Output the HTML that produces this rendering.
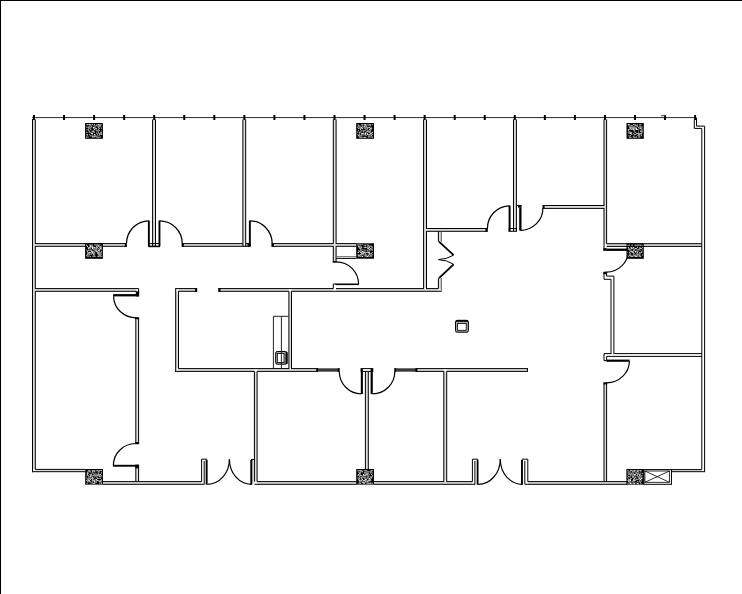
<!DOCTYPE html>
<html><head><meta charset="utf-8"><title>Floor plan</title>
<style>html,body{margin:0;padding:0;background:#fff;}svg{display:block}</style></head>
<body><svg width="742" height="594" viewBox="0 0 742 594">
<rect width="742" height="594" fill="#fff"/>
<rect x="32.50" y="119.50" width="2.80" height="349.90" fill="#dcdcdc"/>
<rect x="152.60" y="119.50" width="2.90" height="126.80" fill="#dcdcdc"/>
<rect x="242.90" y="119.50" width="2.80" height="126.80" fill="#dcdcdc"/>
<rect x="333.30" y="119.50" width="2.80" height="142.00" fill="#dcdcdc"/>
<rect x="423.60" y="119.50" width="2.90" height="169.10" fill="#dcdcdc"/>
<rect x="513.50" y="119.50" width="2.90" height="111.80" fill="#dcdcdc"/>
<rect x="604.00" y="119.50" width="2.60" height="124.20" fill="#dcdcdc"/>
<rect x="135.80" y="318.00" width="2.80" height="125.50" fill="#dcdcdc"/>
<rect x="135.80" y="467.00" width="2.80" height="14.60" fill="#dcdcdc"/>
<rect x="175.70" y="291.30" width="2.80" height="77.30" fill="#dcdcdc"/>
<rect x="288.90" y="291.30" width="2.60" height="77.30" fill="#dcdcdc"/>
<rect x="365.40" y="371.40" width="2.90" height="97.80" fill="#dcdcdc"/>
<rect x="254.40" y="371.40" width="2.70" height="110.20" fill="#dcdcdc"/>
<rect x="443.80" y="371.40" width="2.90" height="110.20" fill="#dcdcdc"/>
<rect x="604.00" y="382.60" width="2.60" height="99.00" fill="#dcdcdc"/>
<rect x="438.40" y="231.30" width="2.90" height="10.30" fill="#dcdcdc"/>
<rect x="438.40" y="278.20" width="2.90" height="10.40" fill="#dcdcdc"/>
<rect x="661.00" y="115.40" width="4.00" height="2.20" fill="#dcdcdc"/>
<rect x="35.30" y="469.40" width="50.00" height="2.30" fill="#dcdcdc"/>
<rect x="671.50" y="469.60" width="30.30" height="2.10" fill="#dcdcdc"/>
<rect x="35.30" y="243.60" width="91.30" height="2.70" fill="#dcdcdc"/>
<rect x="182.00" y="243.60" width="67.50" height="2.70" fill="#dcdcdc"/>
<rect x="272.50" y="243.60" width="83.80" height="2.70" fill="#dcdcdc"/>
<rect x="35.30" y="288.60" width="101.00" height="2.70" fill="#dcdcdc"/>
<rect x="178.50" y="288.60" width="18.50" height="2.70" fill="#dcdcdc"/>
<rect x="218.50" y="288.60" width="70.40" height="2.70" fill="#dcdcdc"/>
<rect x="291.50" y="288.60" width="41.80" height="2.70" fill="#dcdcdc"/>
<rect x="336.00" y="288.60" width="102.40" height="2.70" fill="#dcdcdc"/>
<rect x="178.50" y="368.60" width="75.90" height="2.80" fill="#dcdcdc"/>
<rect x="257.10" y="368.60" width="59.50" height="2.80" fill="#dcdcdc"/>
<rect x="417.00" y="368.60" width="26.80" height="2.80" fill="#dcdcdc"/>
<rect x="446.70" y="368.60" width="81.10" height="2.80" fill="#dcdcdc"/>
<rect x="103.00" y="481.60" width="98.60" height="2.70" fill="#dcdcdc"/>
<rect x="257.10" y="481.60" width="99.40" height="2.70" fill="#dcdcdc"/>
<rect x="374.00" y="481.60" width="98.40" height="2.70" fill="#dcdcdc"/>
<rect x="527.80" y="481.60" width="99.40" height="2.70" fill="#dcdcdc"/>
<rect x="426.50" y="228.50" width="60.70" height="2.80" fill="#dcdcdc"/>
<rect x="543.00" y="205.50" width="61.00" height="2.90" fill="#dcdcdc"/>
<rect x="606.60" y="243.70" width="95.20" height="2.70" fill="#dcdcdc"/>
<rect x="0.00" y="0.00" width="742.00" height="1.00" fill="#000"/>
<rect x="0.00" y="0.00" width="1.00" height="594.00" fill="#000"/>
<line x1="32.00" y1="117.60" x2="696.50" y2="117.60" stroke="#2a2a2a" stroke-width="1"/>
<rect x="33.00" y="115.00" width="2.00" height="5.00" fill="#000"/>
<rect x="63.05" y="115.00" width="2.00" height="5.00" fill="#000"/>
<rect x="93.10" y="115.00" width="2.00" height="5.00" fill="#000"/>
<rect x="123.15" y="115.00" width="2.00" height="5.00" fill="#000"/>
<rect x="153.20" y="115.00" width="2.00" height="5.00" fill="#000"/>
<rect x="183.25" y="115.00" width="2.00" height="5.00" fill="#000"/>
<rect x="213.30" y="115.00" width="2.00" height="5.00" fill="#000"/>
<rect x="243.35" y="115.00" width="2.00" height="5.00" fill="#000"/>
<rect x="273.40" y="115.00" width="2.00" height="5.00" fill="#000"/>
<rect x="303.45" y="115.00" width="2.00" height="5.00" fill="#000"/>
<rect x="333.50" y="115.00" width="2.00" height="5.00" fill="#000"/>
<rect x="363.55" y="115.00" width="2.00" height="5.00" fill="#000"/>
<rect x="393.60" y="115.00" width="2.00" height="5.00" fill="#000"/>
<rect x="423.65" y="115.00" width="2.00" height="5.00" fill="#000"/>
<rect x="453.70" y="115.00" width="2.00" height="5.00" fill="#000"/>
<rect x="483.75" y="115.00" width="2.00" height="5.00" fill="#000"/>
<rect x="513.80" y="115.00" width="2.00" height="5.00" fill="#000"/>
<rect x="543.85" y="115.00" width="2.00" height="5.00" fill="#000"/>
<rect x="573.90" y="115.00" width="2.00" height="5.00" fill="#000"/>
<rect x="603.95" y="115.00" width="2.00" height="5.00" fill="#000"/>
<rect x="634.00" y="115.00" width="2.00" height="5.00" fill="#000"/>
<rect x="664.05" y="115.00" width="2.00" height="5.00" fill="#000"/>
<rect x="694.10" y="115.00" width="2.00" height="5.00" fill="#000"/>
<line x1="661.00" y1="115.40" x2="665.00" y2="115.40" stroke="#555" stroke-width="1"/>
<line x1="32.50" y1="119.00" x2="32.50" y2="472.20" stroke="#000" stroke-width="1"/>
<line x1="35.30" y1="119.50" x2="35.30" y2="469.40" stroke="#000" stroke-width="1"/>
<line x1="35.30" y1="469.40" x2="85.30" y2="469.40" stroke="#000" stroke-width="1"/>
<line x1="32.00" y1="471.70" x2="85.30" y2="471.70" stroke="#000" stroke-width="1"/>
<path d="M694.3 119.5 V128.4 H701.8 V469.4" fill="none" stroke="#000" stroke-width="1" stroke-linejoin="miter"/>
<path d="M696.5 118 V126.1 H704.6 V471.7" fill="none" stroke="#000" stroke-width="1" stroke-linejoin="miter"/>
<line x1="671.50" y1="469.60" x2="701.80" y2="469.60" stroke="#000" stroke-width="1"/>
<line x1="671.50" y1="471.70" x2="705.10" y2="471.70" stroke="#000" stroke-width="1"/>
<line x1="152.60" y1="119.50" x2="152.60" y2="246.30" stroke="#000" stroke-width="1"/>
<line x1="155.50" y1="119.50" x2="155.50" y2="246.30" stroke="#000" stroke-width="1"/>
<line x1="242.90" y1="119.50" x2="242.90" y2="246.30" stroke="#000" stroke-width="1"/>
<line x1="245.70" y1="119.50" x2="245.70" y2="246.30" stroke="#000" stroke-width="1"/>
<line x1="333.30" y1="119.50" x2="333.30" y2="262.50" stroke="#000" stroke-width="1"/>
<line x1="336.10" y1="119.50" x2="336.10" y2="261.50" stroke="#000" stroke-width="1"/>
<line x1="423.60" y1="119.50" x2="423.60" y2="288.60" stroke="#000" stroke-width="1"/>
<line x1="426.50" y1="119.50" x2="426.50" y2="288.60" stroke="#000" stroke-width="1"/>
<line x1="513.50" y1="119.50" x2="513.50" y2="231.30" stroke="#000" stroke-width="1"/>
<line x1="516.40" y1="119.50" x2="516.40" y2="231.30" stroke="#000" stroke-width="1"/>
<line x1="604.00" y1="119.50" x2="604.00" y2="250.60" stroke="#000" stroke-width="1"/>
<line x1="606.60" y1="119.50" x2="606.60" y2="243.70" stroke="#000" stroke-width="1"/>
<rect x="603.40" y="248.20" width="3.20" height="2.60" fill="#000"/>
<line x1="35.30" y1="243.60" x2="126.60" y2="243.60" stroke="#000" stroke-width="1"/>
<line x1="35.30" y1="246.30" x2="126.60" y2="246.30" stroke="#000" stroke-width="1"/>
<rect x="124.80" y="243.10" width="2.00" height="3.70" fill="#000"/>
<rect x="147.90" y="220.60" width="1.90" height="25.40" fill="#000"/>
<path d="M126.50 243.60 A22.40 22.90 0 0 1 148.80 220.80" fill="none" stroke="#000" stroke-width="1.2"/>
<rect x="148.80" y="243.60" width="10.80" height="2.70" fill="none" stroke="#000" stroke-width="1" rx="0"/>
<line x1="148.50" y1="246.50" x2="160.00" y2="246.50" stroke="#000" stroke-width="1.4"/>
<rect x="158.50" y="220.60" width="1.90" height="25.40" fill="#000"/>
<path d="M159.60 220.80 A22.70 22.90 0 0 1 182.30 243.60" fill="none" stroke="#000" stroke-width="1.2"/>
<rect x="181.60" y="243.10" width="2.20" height="3.70" fill="#000"/>
<line x1="182.00" y1="243.60" x2="249.50" y2="243.60" stroke="#000" stroke-width="1"/>
<line x1="182.00" y1="246.30" x2="249.50" y2="246.30" stroke="#000" stroke-width="1"/>
<rect x="247.50" y="243.10" width="3.10" height="3.70" fill="#000"/>
<rect x="248.90" y="220.60" width="1.90" height="25.40" fill="#000"/>
<path d="M249.90 220.80 A22.30 22.90 0 0 1 272.20 243.60" fill="none" stroke="#000" stroke-width="1.2"/>
<rect x="271.40" y="243.10" width="2.40" height="3.70" fill="#000"/>
<line x1="272.50" y1="243.60" x2="356.30" y2="243.60" stroke="#000" stroke-width="1"/>
<line x1="272.50" y1="246.30" x2="356.30" y2="246.30" stroke="#000" stroke-width="1"/>
<line x1="336.10" y1="256.70" x2="356.30" y2="256.70" stroke="#666" stroke-width="1"/>
<line x1="336.10" y1="258.40" x2="356.30" y2="258.40" stroke="#000" stroke-width="1"/>
<rect x="332.80" y="261.00" width="3.80" height="1.70" fill="#000"/>
<path d="M336.10 261.80 A22.40 22.40 0 0 1 358.60 284.30" fill="none" stroke="#000" stroke-width="1.2"/>
<rect x="335.60" y="283.50" width="23.30" height="1.60" fill="#000"/>
<line x1="333.30" y1="284.00" x2="333.30" y2="288.60" stroke="#000" stroke-width="1"/>
<line x1="333.30" y1="284.00" x2="336.00" y2="284.00" stroke="#000" stroke-width="1"/>
<rect x="85.10" y="123.00" width="17.80" height="15.80" fill="#000"/>
<rect x="86.38" y="123.99" width="1.00" height="0.9" fill="#fff"/>
<rect x="87.38" y="124.20" width="1.10" height="1.0" fill="#fff"/>
<rect x="88.68" y="124.00" width="1.30" height="0.9" fill="#fff"/>
<rect x="90.27" y="124.24" width="0.90" height="0.8" fill="#fff"/>
<rect x="91.74" y="123.97" width="1.30" height="0.8" fill="#fff"/>
<rect x="93.91" y="124.10" width="1.00" height="1.0" fill="#fff"/>
<rect x="96.50" y="124.31" width="1.00" height="0.9" fill="#fff"/>
<rect x="98.09" y="124.16" width="1.00" height="0.9" fill="#fff"/>
<rect x="99.20" y="124.35" width="1.30" height="0.9" fill="#fff"/>
<rect x="100.64" y="124.21" width="1.00" height="0.8" fill="#fff"/>
<rect x="89.51" y="125.28" width="0.90" height="0.8" fill="#fff"/>
<rect x="90.57" y="125.53" width="1.30" height="0.9" fill="#fff"/>
<rect x="93.50" y="125.50" width="1.10" height="0.9" fill="#fff"/>
<rect x="94.87" y="125.67" width="1.30" height="0.8" fill="#fff"/>
<rect x="96.12" y="125.35" width="0.90" height="0.8" fill="#fff"/>
<rect x="97.41" y="125.64" width="1.30" height="0.9" fill="#fff"/>
<rect x="98.43" y="125.26" width="1.30" height="0.9" fill="#fff"/>
<rect x="100.02" y="125.40" width="1.10" height="0.8" fill="#fff"/>
<rect x="86.25" y="126.59" width="1.00" height="0.9" fill="#fff"/>
<rect x="87.49" y="126.66" width="1.30" height="1.0" fill="#fff"/>
<rect x="88.73" y="126.54" width="1.30" height="0.8" fill="#fff"/>
<rect x="90.19" y="126.74" width="1.00" height="0.8" fill="#fff"/>
<rect x="91.46" y="126.63" width="0.90" height="0.8" fill="#fff"/>
<rect x="92.98" y="126.93" width="1.00" height="1.0" fill="#fff"/>
<rect x="94.30" y="126.84" width="0.90" height="0.9" fill="#fff"/>
<rect x="97.80" y="126.77" width="1.30" height="0.9" fill="#fff"/>
<rect x="99.27" y="126.50" width="0.90" height="0.8" fill="#fff"/>
<rect x="100.63" y="126.72" width="0.90" height="0.8" fill="#fff"/>
<rect x="88.26" y="127.77" width="0.90" height="0.8" fill="#fff"/>
<rect x="89.43" y="127.76" width="1.10" height="1.0" fill="#fff"/>
<rect x="93.19" y="127.75" width="1.30" height="0.9" fill="#fff"/>
<rect x="94.86" y="127.78" width="1.10" height="0.9" fill="#fff"/>
<rect x="96.10" y="128.16" width="1.10" height="0.8" fill="#fff"/>
<rect x="98.77" y="127.96" width="0.90" height="1.0" fill="#fff"/>
<rect x="101.22" y="127.95" width="0.60" height="1.0" fill="#fff"/>
<rect x="86.46" y="129.32" width="1.00" height="0.8" fill="#fff"/>
<rect x="87.72" y="129.44" width="1.30" height="0.9" fill="#fff"/>
<rect x="90.25" y="129.12" width="1.00" height="1.0" fill="#fff"/>
<rect x="93.96" y="129.06" width="1.10" height="0.8" fill="#fff"/>
<rect x="95.46" y="129.40" width="1.00" height="0.9" fill="#fff"/>
<rect x="97.79" y="129.28" width="1.10" height="1.0" fill="#fff"/>
<rect x="88.34" y="130.37" width="1.00" height="0.9" fill="#fff"/>
<rect x="92.32" y="130.56" width="1.30" height="1.0" fill="#fff"/>
<rect x="93.23" y="130.65" width="1.00" height="0.8" fill="#fff"/>
<rect x="96.22" y="130.28" width="1.30" height="1.0" fill="#fff"/>
<rect x="97.45" y="130.56" width="0.90" height="0.8" fill="#fff"/>
<rect x="98.84" y="130.30" width="1.00" height="0.9" fill="#fff"/>
<rect x="101.20" y="130.58" width="0.60" height="0.9" fill="#fff"/>
<rect x="86.08" y="131.82" width="1.30" height="0.8" fill="#fff"/>
<rect x="88.72" y="131.53" width="1.30" height="1.0" fill="#fff"/>
<rect x="90.25" y="131.84" width="1.30" height="0.8" fill="#fff"/>
<rect x="91.56" y="131.51" width="1.00" height="0.9" fill="#fff"/>
<rect x="92.99" y="131.48" width="1.30" height="0.8" fill="#fff"/>
<rect x="94.10" y="131.73" width="0.90" height="0.8" fill="#fff"/>
<rect x="97.89" y="131.70" width="1.00" height="1.0" fill="#fff"/>
<rect x="100.61" y="131.89" width="1.00" height="1.0" fill="#fff"/>
<rect x="90.76" y="132.90" width="1.30" height="0.8" fill="#fff"/>
<rect x="91.89" y="133.03" width="1.00" height="0.9" fill="#fff"/>
<rect x="95.88" y="132.77" width="1.10" height="0.8" fill="#fff"/>
<rect x="97.49" y="132.78" width="0.90" height="0.9" fill="#fff"/>
<rect x="98.70" y="133.20" width="1.00" height="0.8" fill="#fff"/>
<rect x="99.83" y="132.75" width="1.30" height="0.8" fill="#fff"/>
<rect x="101.18" y="133.05" width="0.60" height="1.0" fill="#fff"/>
<rect x="86.53" y="134.01" width="1.10" height="1.0" fill="#fff"/>
<rect x="88.78" y="133.97" width="0.90" height="0.8" fill="#fff"/>
<rect x="91.67" y="134.29" width="1.00" height="0.9" fill="#fff"/>
<rect x="94.01" y="134.09" width="1.30" height="1.0" fill="#fff"/>
<rect x="96.92" y="134.27" width="0.90" height="0.9" fill="#fff"/>
<rect x="99.18" y="134.01" width="1.00" height="0.8" fill="#fff"/>
<rect x="100.66" y="133.97" width="1.20" height="0.9" fill="#fff"/>
<rect x="86.78" y="135.29" width="0.90" height="0.8" fill="#fff"/>
<rect x="89.47" y="135.54" width="1.00" height="0.9" fill="#fff"/>
<rect x="90.57" y="135.21" width="0.90" height="0.9" fill="#fff"/>
<rect x="92.09" y="135.67" width="1.00" height="1.0" fill="#fff"/>
<rect x="93.40" y="135.62" width="1.30" height="1.0" fill="#fff"/>
<rect x="94.56" y="135.31" width="1.10" height="1.0" fill="#fff"/>
<rect x="96.24" y="135.69" width="1.00" height="0.9" fill="#fff"/>
<rect x="98.43" y="135.24" width="1.10" height="0.9" fill="#fff"/>
<rect x="86.17" y="136.60" width="1.10" height="1.0" fill="#fff"/>
<rect x="87.57" y="136.58" width="1.00" height="0.9" fill="#fff"/>
<rect x="91.73" y="136.60" width="1.00" height="0.8" fill="#fff"/>
<rect x="92.74" y="136.69" width="0.90" height="0.9" fill="#fff"/>
<rect x="94.10" y="136.45" width="1.00" height="0.8" fill="#fff"/>
<rect x="95.35" y="136.47" width="0.90" height="0.8" fill="#fff"/>
<rect x="96.57" y="136.74" width="1.10" height="1.0" fill="#fff"/>
<rect x="98.20" y="136.84" width="1.00" height="1.0" fill="#fff"/>
<rect x="99.54" y="136.52" width="1.10" height="1.0" fill="#fff"/>
<rect x="356.20" y="123.00" width="17.80" height="15.80" fill="#000"/>
<rect x="357.60" y="124.26" width="0.90" height="1.0" fill="#fff"/>
<rect x="361.34" y="124.40" width="0.90" height="1.0" fill="#fff"/>
<rect x="362.37" y="124.02" width="1.00" height="0.8" fill="#fff"/>
<rect x="364.07" y="124.23" width="0.90" height="0.9" fill="#fff"/>
<rect x="365.08" y="124.18" width="1.00" height="0.9" fill="#fff"/>
<rect x="366.51" y="124.32" width="0.90" height="1.0" fill="#fff"/>
<rect x="367.67" y="124.33" width="0.90" height="0.9" fill="#fff"/>
<rect x="369.27" y="123.99" width="1.30" height="0.9" fill="#fff"/>
<rect x="371.77" y="124.05" width="0.90" height="1.0" fill="#fff"/>
<rect x="358.08" y="125.55" width="1.10" height="0.9" fill="#fff"/>
<rect x="359.29" y="125.44" width="1.00" height="0.8" fill="#fff"/>
<rect x="361.89" y="125.55" width="1.00" height="1.0" fill="#fff"/>
<rect x="363.33" y="125.70" width="1.30" height="0.9" fill="#fff"/>
<rect x="364.72" y="125.21" width="1.10" height="0.8" fill="#fff"/>
<rect x="365.74" y="125.66" width="1.30" height="0.9" fill="#fff"/>
<rect x="368.52" y="125.33" width="0.90" height="0.8" fill="#fff"/>
<rect x="369.80" y="125.32" width="1.10" height="0.8" fill="#fff"/>
<rect x="357.15" y="126.70" width="0.90" height="0.8" fill="#fff"/>
<rect x="358.52" y="126.62" width="1.10" height="1.0" fill="#fff"/>
<rect x="359.91" y="126.62" width="1.10" height="0.8" fill="#fff"/>
<rect x="361.06" y="126.82" width="1.00" height="1.0" fill="#fff"/>
<rect x="362.55" y="126.88" width="0.90" height="0.9" fill="#fff"/>
<rect x="364.08" y="126.59" width="1.30" height="0.9" fill="#fff"/>
<rect x="365.42" y="126.57" width="1.10" height="1.0" fill="#fff"/>
<rect x="366.64" y="126.84" width="1.10" height="0.8" fill="#fff"/>
<rect x="367.75" y="126.89" width="0.90" height="1.0" fill="#fff"/>
<rect x="368.89" y="126.92" width="1.00" height="1.0" fill="#fff"/>
<rect x="370.58" y="126.69" width="1.00" height="1.0" fill="#fff"/>
<rect x="357.96" y="127.84" width="1.00" height="0.9" fill="#fff"/>
<rect x="359.38" y="127.85" width="1.10" height="0.9" fill="#fff"/>
<rect x="360.43" y="127.78" width="1.30" height="0.8" fill="#fff"/>
<rect x="361.76" y="128.15" width="1.30" height="1.0" fill="#fff"/>
<rect x="364.35" y="127.75" width="1.00" height="1.0" fill="#fff"/>
<rect x="365.67" y="127.83" width="0.90" height="0.9" fill="#fff"/>
<rect x="367.29" y="127.89" width="0.90" height="1.0" fill="#fff"/>
<rect x="369.83" y="127.95" width="1.10" height="0.9" fill="#fff"/>
<rect x="371.09" y="127.96" width="1.10" height="0.8" fill="#fff"/>
<rect x="359.95" y="129.17" width="1.00" height="0.9" fill="#fff"/>
<rect x="365.30" y="129.40" width="0.90" height="0.9" fill="#fff"/>
<rect x="366.29" y="129.42" width="1.30" height="0.8" fill="#fff"/>
<rect x="368.97" y="129.00" width="1.30" height="0.9" fill="#fff"/>
<rect x="370.50" y="129.37" width="0.90" height="1.0" fill="#fff"/>
<rect x="358.14" y="130.32" width="0.90" height="0.8" fill="#fff"/>
<rect x="360.66" y="130.46" width="1.10" height="0.8" fill="#fff"/>
<rect x="361.69" y="130.46" width="0.90" height="0.8" fill="#fff"/>
<rect x="363.06" y="130.50" width="1.30" height="0.9" fill="#fff"/>
<rect x="364.39" y="130.36" width="1.10" height="0.9" fill="#fff"/>
<rect x="366.97" y="130.68" width="1.00" height="1.0" fill="#fff"/>
<rect x="368.16" y="130.45" width="1.10" height="0.8" fill="#fff"/>
<rect x="369.58" y="130.53" width="1.30" height="0.8" fill="#fff"/>
<rect x="357.32" y="131.66" width="0.90" height="1.0" fill="#fff"/>
<rect x="358.85" y="131.82" width="1.00" height="0.8" fill="#fff"/>
<rect x="360.23" y="131.61" width="1.00" height="0.9" fill="#fff"/>
<rect x="362.73" y="131.60" width="1.00" height="0.9" fill="#fff"/>
<rect x="365.19" y="131.91" width="1.00" height="0.8" fill="#fff"/>
<rect x="366.28" y="131.46" width="1.00" height="0.9" fill="#fff"/>
<rect x="367.90" y="131.54" width="1.30" height="0.8" fill="#fff"/>
<rect x="368.91" y="131.49" width="1.10" height="1.0" fill="#fff"/>
<rect x="370.48" y="131.71" width="1.00" height="0.8" fill="#fff"/>
<rect x="371.81" y="131.87" width="1.10" height="1.0" fill="#fff"/>
<rect x="359.09" y="132.74" width="0.90" height="0.8" fill="#fff"/>
<rect x="360.83" y="132.80" width="0.90" height="1.0" fill="#fff"/>
<rect x="361.69" y="133.05" width="1.10" height="0.9" fill="#fff"/>
<rect x="363.11" y="133.07" width="1.30" height="0.8" fill="#fff"/>
<rect x="364.66" y="133.08" width="1.30" height="0.8" fill="#fff"/>
<rect x="365.58" y="133.16" width="0.90" height="0.9" fill="#fff"/>
<rect x="367.02" y="132.84" width="0.90" height="1.0" fill="#fff"/>
<rect x="369.81" y="132.86" width="1.10" height="1.0" fill="#fff"/>
<rect x="371.13" y="133.16" width="0.90" height="1.0" fill="#fff"/>
<rect x="357.56" y="134.00" width="0.90" height="0.8" fill="#fff"/>
<rect x="358.84" y="134.41" width="1.30" height="0.9" fill="#fff"/>
<rect x="361.05" y="134.42" width="1.30" height="0.8" fill="#fff"/>
<rect x="362.47" y="134.38" width="1.00" height="1.0" fill="#fff"/>
<rect x="363.75" y="134.33" width="0.90" height="1.0" fill="#fff"/>
<rect x="364.97" y="134.23" width="0.90" height="1.0" fill="#fff"/>
<rect x="366.74" y="134.08" width="1.30" height="0.8" fill="#fff"/>
<rect x="367.80" y="134.30" width="0.90" height="0.9" fill="#fff"/>
<rect x="369.06" y="134.26" width="1.00" height="0.8" fill="#fff"/>
<rect x="370.30" y="134.23" width="0.90" height="0.9" fill="#fff"/>
<rect x="371.67" y="134.04" width="1.10" height="0.8" fill="#fff"/>
<rect x="357.84" y="135.23" width="1.10" height="1.0" fill="#fff"/>
<rect x="359.31" y="135.52" width="1.00" height="1.0" fill="#fff"/>
<rect x="360.40" y="135.44" width="1.30" height="0.8" fill="#fff"/>
<rect x="365.61" y="135.29" width="1.10" height="0.8" fill="#fff"/>
<rect x="368.41" y="135.29" width="0.90" height="0.9" fill="#fff"/>
<rect x="369.77" y="135.55" width="0.90" height="0.8" fill="#fff"/>
<rect x="370.92" y="135.22" width="0.90" height="0.9" fill="#fff"/>
<rect x="358.86" y="136.65" width="1.00" height="0.8" fill="#fff"/>
<rect x="359.85" y="136.85" width="1.10" height="0.8" fill="#fff"/>
<rect x="361.10" y="136.65" width="0.90" height="0.9" fill="#fff"/>
<rect x="362.43" y="136.80" width="0.90" height="1.0" fill="#fff"/>
<rect x="363.80" y="136.93" width="1.10" height="1.0" fill="#fff"/>
<rect x="365.16" y="136.88" width="1.10" height="0.9" fill="#fff"/>
<rect x="367.91" y="136.55" width="1.00" height="0.9" fill="#fff"/>
<rect x="368.91" y="136.50" width="1.00" height="0.9" fill="#fff"/>
<rect x="370.54" y="136.51" width="1.10" height="0.9" fill="#fff"/>
<rect x="371.85" y="136.65" width="1.00" height="1.0" fill="#fff"/>
<rect x="626.50" y="123.00" width="17.30" height="15.80" fill="#000"/>
<rect x="627.70" y="124.02" width="1.10" height="1.0" fill="#fff"/>
<rect x="628.80" y="124.20" width="1.00" height="0.8" fill="#fff"/>
<rect x="633.14" y="124.19" width="1.00" height="0.8" fill="#fff"/>
<rect x="634.40" y="124.26" width="1.30" height="0.8" fill="#fff"/>
<rect x="636.75" y="124.37" width="1.00" height="1.0" fill="#fff"/>
<rect x="639.35" y="124.21" width="1.00" height="0.8" fill="#fff"/>
<rect x="640.57" y="124.31" width="0.90" height="0.8" fill="#fff"/>
<rect x="628.47" y="125.26" width="0.90" height="1.0" fill="#fff"/>
<rect x="629.56" y="125.49" width="1.10" height="1.0" fill="#fff"/>
<rect x="630.90" y="125.29" width="1.10" height="0.9" fill="#fff"/>
<rect x="632.07" y="125.58" width="1.30" height="0.9" fill="#fff"/>
<rect x="634.75" y="125.23" width="1.00" height="0.9" fill="#fff"/>
<rect x="636.25" y="125.45" width="1.10" height="0.8" fill="#fff"/>
<rect x="637.22" y="125.66" width="0.90" height="1.0" fill="#fff"/>
<rect x="638.83" y="125.65" width="0.90" height="0.8" fill="#fff"/>
<rect x="640.18" y="125.70" width="1.00" height="0.8" fill="#fff"/>
<rect x="629.23" y="126.91" width="1.30" height="0.9" fill="#fff"/>
<rect x="630.47" y="126.76" width="1.00" height="0.8" fill="#fff"/>
<rect x="631.49" y="126.86" width="1.10" height="1.0" fill="#fff"/>
<rect x="632.95" y="126.76" width="1.30" height="0.8" fill="#fff"/>
<rect x="634.05" y="126.65" width="1.10" height="0.8" fill="#fff"/>
<rect x="635.41" y="126.64" width="1.10" height="1.0" fill="#fff"/>
<rect x="638.28" y="126.93" width="0.90" height="1.0" fill="#fff"/>
<rect x="639.65" y="126.76" width="0.90" height="0.9" fill="#fff"/>
<rect x="640.64" y="126.63" width="1.10" height="0.9" fill="#fff"/>
<rect x="641.97" y="126.54" width="0.70" height="0.8" fill="#fff"/>
<rect x="629.67" y="128.19" width="1.10" height="0.9" fill="#fff"/>
<rect x="630.65" y="127.72" width="1.10" height="1.0" fill="#fff"/>
<rect x="632.21" y="128.15" width="1.30" height="0.9" fill="#fff"/>
<rect x="633.58" y="127.71" width="1.00" height="1.0" fill="#fff"/>
<rect x="634.60" y="127.88" width="1.10" height="0.9" fill="#fff"/>
<rect x="635.92" y="127.88" width="1.10" height="1.0" fill="#fff"/>
<rect x="638.80" y="127.93" width="0.90" height="0.8" fill="#fff"/>
<rect x="640.14" y="127.90" width="1.00" height="1.0" fill="#fff"/>
<rect x="641.37" y="127.98" width="0.90" height="0.8" fill="#fff"/>
<rect x="627.92" y="129.32" width="1.30" height="1.0" fill="#fff"/>
<rect x="628.78" y="128.96" width="0.90" height="0.8" fill="#fff"/>
<rect x="630.51" y="129.00" width="1.00" height="0.8" fill="#fff"/>
<rect x="631.56" y="129.21" width="1.00" height="0.8" fill="#fff"/>
<rect x="632.74" y="129.10" width="1.30" height="1.0" fill="#fff"/>
<rect x="634.34" y="129.31" width="0.90" height="1.0" fill="#fff"/>
<rect x="635.71" y="128.99" width="1.30" height="1.0" fill="#fff"/>
<rect x="637.05" y="129.08" width="1.00" height="0.8" fill="#fff"/>
<rect x="638.30" y="129.41" width="0.90" height="0.9" fill="#fff"/>
<rect x="640.77" y="129.29" width="0.90" height="0.9" fill="#fff"/>
<rect x="642.07" y="129.43" width="0.70" height="0.9" fill="#fff"/>
<rect x="628.18" y="130.32" width="0.90" height="0.8" fill="#fff"/>
<rect x="633.55" y="130.39" width="1.30" height="0.9" fill="#fff"/>
<rect x="640.10" y="130.63" width="1.30" height="1.0" fill="#fff"/>
<rect x="641.49" y="130.59" width="1.00" height="1.0" fill="#fff"/>
<rect x="627.91" y="131.52" width="0.90" height="1.0" fill="#fff"/>
<rect x="629.21" y="131.62" width="0.90" height="1.0" fill="#fff"/>
<rect x="630.07" y="131.80" width="0.90" height="0.8" fill="#fff"/>
<rect x="631.37" y="131.88" width="0.90" height="1.0" fill="#fff"/>
<rect x="634.42" y="131.50" width="0.90" height="1.0" fill="#fff"/>
<rect x="635.27" y="131.87" width="0.90" height="0.8" fill="#fff"/>
<rect x="637.90" y="131.50" width="1.10" height="0.9" fill="#fff"/>
<rect x="640.66" y="131.46" width="1.10" height="0.9" fill="#fff"/>
<rect x="642.11" y="131.63" width="0.70" height="0.8" fill="#fff"/>
<rect x="628.36" y="132.72" width="1.30" height="0.9" fill="#fff"/>
<rect x="629.74" y="132.87" width="1.30" height="1.0" fill="#fff"/>
<rect x="631.08" y="132.75" width="1.00" height="1.0" fill="#fff"/>
<rect x="633.35" y="133.08" width="0.90" height="1.0" fill="#fff"/>
<rect x="636.10" y="133.10" width="1.30" height="0.8" fill="#fff"/>
<rect x="637.32" y="133.12" width="1.30" height="1.0" fill="#fff"/>
<rect x="638.86" y="133.17" width="1.00" height="0.9" fill="#fff"/>
<rect x="640.22" y="133.08" width="1.00" height="0.8" fill="#fff"/>
<rect x="641.21" y="132.75" width="0.90" height="1.0" fill="#fff"/>
<rect x="631.45" y="134.08" width="0.90" height="0.9" fill="#fff"/>
<rect x="634.07" y="134.18" width="1.30" height="1.0" fill="#fff"/>
<rect x="635.54" y="134.21" width="0.90" height="0.9" fill="#fff"/>
<rect x="638.08" y="134.29" width="1.10" height="0.8" fill="#fff"/>
<rect x="639.32" y="134.27" width="1.00" height="0.8" fill="#fff"/>
<rect x="640.60" y="134.30" width="1.00" height="0.9" fill="#fff"/>
<rect x="628.41" y="135.50" width="1.00" height="0.8" fill="#fff"/>
<rect x="629.83" y="135.33" width="1.00" height="0.9" fill="#fff"/>
<rect x="633.44" y="135.69" width="0.90" height="0.8" fill="#fff"/>
<rect x="637.47" y="135.25" width="1.00" height="0.8" fill="#fff"/>
<rect x="638.47" y="135.40" width="1.30" height="0.9" fill="#fff"/>
<rect x="641.06" y="135.33" width="1.10" height="0.9" fill="#fff"/>
<rect x="629.10" y="136.74" width="1.00" height="0.9" fill="#fff"/>
<rect x="630.41" y="136.89" width="1.00" height="1.0" fill="#fff"/>
<rect x="632.74" y="136.51" width="1.00" height="1.0" fill="#fff"/>
<rect x="634.30" y="136.90" width="1.10" height="1.0" fill="#fff"/>
<rect x="635.61" y="136.53" width="1.30" height="1.0" fill="#fff"/>
<rect x="638.28" y="136.71" width="0.90" height="1.0" fill="#fff"/>
<rect x="639.31" y="136.46" width="1.00" height="1.0" fill="#fff"/>
<rect x="85.10" y="243.40" width="17.80" height="15.40" fill="#000"/>
<rect x="86.16" y="244.71" width="1.10" height="1.0" fill="#fff"/>
<rect x="89.07" y="244.58" width="1.10" height="0.8" fill="#fff"/>
<rect x="89.96" y="244.75" width="1.30" height="1.0" fill="#fff"/>
<rect x="91.62" y="244.58" width="1.10" height="0.9" fill="#fff"/>
<rect x="94.34" y="244.53" width="0.90" height="1.0" fill="#fff"/>
<rect x="95.35" y="244.36" width="1.10" height="0.9" fill="#fff"/>
<rect x="96.80" y="244.53" width="1.30" height="1.0" fill="#fff"/>
<rect x="98.12" y="244.82" width="1.00" height="0.9" fill="#fff"/>
<rect x="99.28" y="244.43" width="1.00" height="0.9" fill="#fff"/>
<rect x="86.97" y="245.96" width="1.00" height="0.9" fill="#fff"/>
<rect x="89.75" y="245.98" width="1.30" height="0.9" fill="#fff"/>
<rect x="90.94" y="245.72" width="1.30" height="0.9" fill="#fff"/>
<rect x="92.19" y="245.84" width="1.10" height="0.9" fill="#fff"/>
<rect x="95.99" y="245.81" width="1.10" height="0.9" fill="#fff"/>
<rect x="97.51" y="246.03" width="1.10" height="0.8" fill="#fff"/>
<rect x="98.62" y="245.77" width="1.10" height="0.8" fill="#fff"/>
<rect x="100.13" y="245.93" width="0.90" height="0.8" fill="#fff"/>
<rect x="101.02" y="245.72" width="0.60" height="1.0" fill="#fff"/>
<rect x="87.80" y="247.25" width="1.00" height="0.8" fill="#fff"/>
<rect x="89.10" y="247.12" width="0.90" height="1.0" fill="#fff"/>
<rect x="90.20" y="246.96" width="1.10" height="0.8" fill="#fff"/>
<rect x="91.69" y="247.13" width="1.30" height="1.0" fill="#fff"/>
<rect x="92.79" y="247.13" width="1.00" height="0.8" fill="#fff"/>
<rect x="94.10" y="247.10" width="1.00" height="1.0" fill="#fff"/>
<rect x="95.57" y="247.08" width="0.90" height="0.8" fill="#fff"/>
<rect x="96.64" y="247.06" width="1.10" height="0.9" fill="#fff"/>
<rect x="99.37" y="246.86" width="1.10" height="1.0" fill="#fff"/>
<rect x="100.61" y="247.09" width="1.10" height="0.8" fill="#fff"/>
<rect x="88.01" y="248.15" width="1.30" height="1.0" fill="#fff"/>
<rect x="89.64" y="248.38" width="1.10" height="0.9" fill="#fff"/>
<rect x="91.98" y="248.13" width="1.10" height="0.9" fill="#fff"/>
<rect x="93.35" y="248.35" width="1.10" height="0.9" fill="#fff"/>
<rect x="94.78" y="248.50" width="1.10" height="0.8" fill="#fff"/>
<rect x="95.90" y="248.39" width="1.10" height="1.0" fill="#fff"/>
<rect x="97.41" y="248.54" width="0.90" height="0.9" fill="#fff"/>
<rect x="98.50" y="248.10" width="0.90" height="0.9" fill="#fff"/>
<rect x="100.03" y="248.13" width="1.30" height="1.0" fill="#fff"/>
<rect x="101.02" y="248.44" width="0.60" height="1.0" fill="#fff"/>
<rect x="86.07" y="249.67" width="0.90" height="0.8" fill="#fff"/>
<rect x="87.68" y="249.78" width="1.00" height="0.8" fill="#fff"/>
<rect x="88.66" y="249.79" width="0.90" height="1.0" fill="#fff"/>
<rect x="90.31" y="249.78" width="1.10" height="1.0" fill="#fff"/>
<rect x="91.26" y="249.63" width="0.90" height="0.9" fill="#fff"/>
<rect x="92.83" y="249.37" width="0.90" height="0.9" fill="#fff"/>
<rect x="94.20" y="249.55" width="1.30" height="1.0" fill="#fff"/>
<rect x="95.45" y="249.82" width="1.30" height="1.0" fill="#fff"/>
<rect x="97.80" y="249.67" width="1.30" height="1.0" fill="#fff"/>
<rect x="99.06" y="249.35" width="1.00" height="1.0" fill="#fff"/>
<rect x="100.46" y="249.41" width="0.90" height="0.8" fill="#fff"/>
<rect x="86.93" y="250.83" width="1.10" height="1.0" fill="#fff"/>
<rect x="90.93" y="250.75" width="1.00" height="1.0" fill="#fff"/>
<rect x="92.18" y="251.05" width="1.30" height="0.9" fill="#fff"/>
<rect x="94.48" y="251.04" width="0.90" height="0.8" fill="#fff"/>
<rect x="95.91" y="250.96" width="0.90" height="0.9" fill="#fff"/>
<rect x="97.08" y="250.78" width="1.30" height="1.0" fill="#fff"/>
<rect x="98.69" y="250.67" width="1.30" height="0.9" fill="#fff"/>
<rect x="101.35" y="250.84" width="0.60" height="1.0" fill="#fff"/>
<rect x="87.52" y="251.99" width="1.10" height="1.0" fill="#fff"/>
<rect x="89.01" y="251.86" width="1.10" height="1.0" fill="#fff"/>
<rect x="90.16" y="252.29" width="1.10" height="1.0" fill="#fff"/>
<rect x="91.64" y="251.97" width="1.30" height="1.0" fill="#fff"/>
<rect x="92.68" y="252.06" width="0.90" height="0.9" fill="#fff"/>
<rect x="94.27" y="252.26" width="0.90" height="0.9" fill="#fff"/>
<rect x="96.79" y="252.31" width="1.10" height="1.0" fill="#fff"/>
<rect x="98.03" y="252.25" width="0.90" height="1.0" fill="#fff"/>
<rect x="99.35" y="252.19" width="1.00" height="0.9" fill="#fff"/>
<rect x="100.64" y="251.85" width="1.00" height="0.9" fill="#fff"/>
<rect x="87.05" y="253.49" width="0.90" height="1.0" fill="#fff"/>
<rect x="88.11" y="253.35" width="1.10" height="1.0" fill="#fff"/>
<rect x="89.30" y="253.50" width="1.00" height="0.8" fill="#fff"/>
<rect x="90.94" y="253.53" width="1.10" height="0.9" fill="#fff"/>
<rect x="92.28" y="253.29" width="1.30" height="0.9" fill="#fff"/>
<rect x="93.31" y="253.12" width="0.90" height="0.8" fill="#fff"/>
<rect x="94.47" y="253.60" width="0.90" height="0.8" fill="#fff"/>
<rect x="97.51" y="253.24" width="1.00" height="0.9" fill="#fff"/>
<rect x="98.76" y="253.58" width="1.30" height="1.0" fill="#fff"/>
<rect x="99.75" y="253.19" width="0.90" height="0.9" fill="#fff"/>
<rect x="101.23" y="253.54" width="0.60" height="0.8" fill="#fff"/>
<rect x="86.37" y="254.81" width="0.90" height="1.0" fill="#fff"/>
<rect x="87.51" y="254.47" width="0.90" height="0.9" fill="#fff"/>
<rect x="88.87" y="254.43" width="1.30" height="0.8" fill="#fff"/>
<rect x="93.02" y="254.38" width="0.90" height="0.9" fill="#fff"/>
<rect x="93.98" y="254.61" width="0.90" height="0.8" fill="#fff"/>
<rect x="97.91" y="254.35" width="0.90" height="0.8" fill="#fff"/>
<rect x="99.35" y="254.73" width="1.10" height="1.0" fill="#fff"/>
<rect x="100.48" y="254.41" width="1.10" height="0.9" fill="#fff"/>
<rect x="86.77" y="255.67" width="1.00" height="0.9" fill="#fff"/>
<rect x="88.31" y="255.70" width="0.90" height="0.9" fill="#fff"/>
<rect x="89.72" y="256.03" width="1.00" height="0.8" fill="#fff"/>
<rect x="92.31" y="255.79" width="1.30" height="0.8" fill="#fff"/>
<rect x="93.64" y="255.76" width="0.90" height="0.9" fill="#fff"/>
<rect x="94.63" y="255.77" width="0.90" height="1.0" fill="#fff"/>
<rect x="97.49" y="255.82" width="1.30" height="1.0" fill="#fff"/>
<rect x="98.47" y="255.61" width="1.30" height="0.9" fill="#fff"/>
<rect x="100.05" y="255.73" width="1.10" height="0.9" fill="#fff"/>
<rect x="101.01" y="256.09" width="0.60" height="0.9" fill="#fff"/>
<rect x="356.20" y="243.30" width="17.80" height="15.40" fill="#000"/>
<rect x="357.39" y="244.39" width="1.00" height="1.0" fill="#fff"/>
<rect x="358.67" y="244.38" width="1.00" height="0.9" fill="#fff"/>
<rect x="359.95" y="244.46" width="1.00" height="0.8" fill="#fff"/>
<rect x="361.54" y="244.26" width="1.10" height="0.8" fill="#fff"/>
<rect x="363.65" y="244.67" width="1.00" height="0.9" fill="#fff"/>
<rect x="365.17" y="244.71" width="1.00" height="0.9" fill="#fff"/>
<rect x="366.67" y="244.51" width="1.00" height="0.8" fill="#fff"/>
<rect x="367.85" y="244.66" width="1.00" height="0.8" fill="#fff"/>
<rect x="358.08" y="245.81" width="1.00" height="1.0" fill="#fff"/>
<rect x="359.06" y="245.85" width="1.10" height="0.8" fill="#fff"/>
<rect x="360.76" y="245.67" width="0.90" height="1.0" fill="#fff"/>
<rect x="364.71" y="245.74" width="0.90" height="0.9" fill="#fff"/>
<rect x="367.27" y="245.68" width="1.00" height="1.0" fill="#fff"/>
<rect x="368.45" y="245.50" width="1.10" height="1.0" fill="#fff"/>
<rect x="369.49" y="245.68" width="1.30" height="1.0" fill="#fff"/>
<rect x="371.18" y="245.79" width="1.10" height="1.0" fill="#fff"/>
<rect x="358.70" y="247.01" width="0.90" height="1.0" fill="#fff"/>
<rect x="359.87" y="246.79" width="1.00" height="0.8" fill="#fff"/>
<rect x="361.21" y="247.03" width="1.00" height="0.8" fill="#fff"/>
<rect x="363.66" y="247.05" width="1.00" height="0.9" fill="#fff"/>
<rect x="365.17" y="246.93" width="1.00" height="1.0" fill="#fff"/>
<rect x="366.39" y="246.98" width="1.00" height="0.8" fill="#fff"/>
<rect x="367.61" y="246.95" width="1.10" height="0.8" fill="#fff"/>
<rect x="368.92" y="247.04" width="1.00" height="0.8" fill="#fff"/>
<rect x="371.64" y="246.96" width="0.90" height="1.0" fill="#fff"/>
<rect x="359.44" y="248.17" width="1.30" height="0.8" fill="#fff"/>
<rect x="360.57" y="248.49" width="1.10" height="1.0" fill="#fff"/>
<rect x="367.32" y="248.12" width="1.00" height="1.0" fill="#fff"/>
<rect x="368.20" y="248.09" width="0.90" height="0.9" fill="#fff"/>
<rect x="369.78" y="248.11" width="1.00" height="1.0" fill="#fff"/>
<rect x="371.07" y="248.40" width="1.30" height="0.9" fill="#fff"/>
<rect x="360.06" y="249.56" width="1.10" height="1.0" fill="#fff"/>
<rect x="362.41" y="249.26" width="0.90" height="0.9" fill="#fff"/>
<rect x="363.71" y="249.42" width="0.90" height="0.9" fill="#fff"/>
<rect x="365.43" y="249.71" width="0.90" height="1.0" fill="#fff"/>
<rect x="367.61" y="249.32" width="1.00" height="0.9" fill="#fff"/>
<rect x="368.99" y="249.37" width="1.30" height="1.0" fill="#fff"/>
<rect x="370.45" y="249.54" width="1.10" height="0.9" fill="#fff"/>
<rect x="371.81" y="249.48" width="1.00" height="1.0" fill="#fff"/>
<rect x="358.16" y="250.52" width="1.30" height="0.9" fill="#fff"/>
<rect x="359.32" y="250.98" width="1.00" height="1.0" fill="#fff"/>
<rect x="360.78" y="250.62" width="1.10" height="0.8" fill="#fff"/>
<rect x="361.79" y="250.99" width="1.30" height="0.9" fill="#fff"/>
<rect x="363.23" y="250.80" width="0.90" height="0.8" fill="#fff"/>
<rect x="364.44" y="250.72" width="0.90" height="1.0" fill="#fff"/>
<rect x="367.22" y="250.58" width="1.00" height="1.0" fill="#fff"/>
<rect x="368.49" y="250.81" width="1.10" height="0.8" fill="#fff"/>
<rect x="357.54" y="252.10" width="1.30" height="0.9" fill="#fff"/>
<rect x="359.96" y="252.02" width="0.90" height="0.8" fill="#fff"/>
<rect x="361.12" y="252.17" width="1.30" height="1.0" fill="#fff"/>
<rect x="362.78" y="252.10" width="0.90" height="0.9" fill="#fff"/>
<rect x="363.83" y="252.01" width="1.10" height="0.9" fill="#fff"/>
<rect x="365.34" y="252.17" width="1.10" height="0.8" fill="#fff"/>
<rect x="366.34" y="251.90" width="1.30" height="0.9" fill="#fff"/>
<rect x="367.67" y="252.16" width="1.30" height="1.0" fill="#fff"/>
<rect x="368.95" y="251.96" width="1.00" height="0.9" fill="#fff"/>
<rect x="371.73" y="252.00" width="0.90" height="0.9" fill="#fff"/>
<rect x="360.76" y="253.36" width="1.30" height="1.0" fill="#fff"/>
<rect x="361.67" y="253.34" width="1.30" height="0.9" fill="#fff"/>
<rect x="362.98" y="253.11" width="0.90" height="1.0" fill="#fff"/>
<rect x="364.53" y="253.29" width="1.30" height="1.0" fill="#fff"/>
<rect x="368.60" y="253.29" width="1.30" height="1.0" fill="#fff"/>
<rect x="369.63" y="253.18" width="0.90" height="0.8" fill="#fff"/>
<rect x="370.84" y="253.33" width="1.10" height="1.0" fill="#fff"/>
<rect x="357.59" y="254.46" width="1.10" height="1.0" fill="#fff"/>
<rect x="358.55" y="254.70" width="1.10" height="1.0" fill="#fff"/>
<rect x="360.03" y="254.30" width="0.90" height="1.0" fill="#fff"/>
<rect x="361.26" y="254.64" width="0.90" height="1.0" fill="#fff"/>
<rect x="362.55" y="254.30" width="0.90" height="0.9" fill="#fff"/>
<rect x="363.74" y="254.63" width="0.90" height="0.8" fill="#fff"/>
<rect x="365.05" y="254.55" width="1.00" height="1.0" fill="#fff"/>
<rect x="366.30" y="254.34" width="0.90" height="0.8" fill="#fff"/>
<rect x="367.77" y="254.65" width="1.30" height="1.0" fill="#fff"/>
<rect x="369.21" y="254.43" width="1.10" height="0.8" fill="#fff"/>
<rect x="370.20" y="254.70" width="1.10" height="1.0" fill="#fff"/>
<rect x="371.67" y="254.44" width="1.10" height="0.8" fill="#fff"/>
<rect x="358.13" y="255.52" width="1.30" height="1.0" fill="#fff"/>
<rect x="359.16" y="255.58" width="1.00" height="0.8" fill="#fff"/>
<rect x="360.35" y="255.93" width="1.00" height="0.9" fill="#fff"/>
<rect x="361.78" y="255.94" width="1.30" height="1.0" fill="#fff"/>
<rect x="364.61" y="255.61" width="1.30" height="1.0" fill="#fff"/>
<rect x="365.95" y="255.62" width="1.30" height="0.8" fill="#fff"/>
<rect x="366.94" y="255.99" width="1.10" height="0.9" fill="#fff"/>
<rect x="368.32" y="255.94" width="1.10" height="0.8" fill="#fff"/>
<rect x="369.66" y="255.96" width="0.90" height="0.8" fill="#fff"/>
<rect x="370.98" y="255.67" width="1.30" height="0.8" fill="#fff"/>
<rect x="626.50" y="243.40" width="17.30" height="15.40" fill="#000"/>
<rect x="627.46" y="244.75" width="1.10" height="1.0" fill="#fff"/>
<rect x="628.85" y="244.62" width="1.00" height="0.8" fill="#fff"/>
<rect x="631.43" y="244.53" width="1.30" height="0.8" fill="#fff"/>
<rect x="634.43" y="244.60" width="1.00" height="0.9" fill="#fff"/>
<rect x="635.32" y="244.70" width="1.30" height="1.0" fill="#fff"/>
<rect x="637.04" y="244.62" width="1.30" height="1.0" fill="#fff"/>
<rect x="638.29" y="244.41" width="1.00" height="0.8" fill="#fff"/>
<rect x="639.54" y="244.54" width="1.10" height="1.0" fill="#fff"/>
<rect x="640.46" y="244.71" width="1.00" height="0.9" fill="#fff"/>
<rect x="641.84" y="244.80" width="0.70" height="0.9" fill="#fff"/>
<rect x="628.43" y="245.70" width="1.10" height="1.0" fill="#fff"/>
<rect x="629.49" y="246.01" width="0.90" height="0.8" fill="#fff"/>
<rect x="631.07" y="245.83" width="1.10" height="0.9" fill="#fff"/>
<rect x="632.04" y="245.78" width="1.00" height="0.9" fill="#fff"/>
<rect x="634.88" y="245.95" width="1.30" height="0.8" fill="#fff"/>
<rect x="636.30" y="245.65" width="1.30" height="0.9" fill="#fff"/>
<rect x="637.52" y="245.96" width="1.10" height="1.0" fill="#fff"/>
<rect x="638.53" y="245.70" width="0.90" height="1.0" fill="#fff"/>
<rect x="639.77" y="245.76" width="1.30" height="1.0" fill="#fff"/>
<rect x="641.47" y="245.89" width="1.00" height="1.0" fill="#fff"/>
<rect x="627.79" y="247.14" width="1.10" height="0.9" fill="#fff"/>
<rect x="630.49" y="247.14" width="1.10" height="0.8" fill="#fff"/>
<rect x="631.41" y="247.25" width="1.00" height="1.0" fill="#fff"/>
<rect x="633.11" y="247.06" width="1.10" height="1.0" fill="#fff"/>
<rect x="636.81" y="247.02" width="1.00" height="0.9" fill="#fff"/>
<rect x="639.40" y="247.19" width="1.10" height="1.0" fill="#fff"/>
<rect x="642.10" y="247.06" width="0.70" height="1.0" fill="#fff"/>
<rect x="628.43" y="248.12" width="1.00" height="0.9" fill="#fff"/>
<rect x="629.62" y="248.58" width="1.10" height="0.8" fill="#fff"/>
<rect x="631.13" y="248.18" width="1.10" height="0.8" fill="#fff"/>
<rect x="632.27" y="248.17" width="0.90" height="0.8" fill="#fff"/>
<rect x="633.49" y="248.45" width="1.30" height="1.0" fill="#fff"/>
<rect x="635.02" y="248.28" width="1.30" height="0.8" fill="#fff"/>
<rect x="636.13" y="248.27" width="1.00" height="1.0" fill="#fff"/>
<rect x="638.78" y="248.40" width="1.00" height="1.0" fill="#fff"/>
<rect x="639.81" y="248.24" width="1.30" height="0.8" fill="#fff"/>
<rect x="641.08" y="248.24" width="1.00" height="0.8" fill="#fff"/>
<rect x="627.93" y="249.43" width="1.10" height="0.9" fill="#fff"/>
<rect x="628.83" y="249.39" width="1.10" height="0.9" fill="#fff"/>
<rect x="630.42" y="249.52" width="1.30" height="0.8" fill="#fff"/>
<rect x="632.89" y="249.74" width="1.30" height="0.9" fill="#fff"/>
<rect x="634.27" y="249.66" width="1.10" height="0.8" fill="#fff"/>
<rect x="636.67" y="249.42" width="1.10" height="1.0" fill="#fff"/>
<rect x="638.00" y="249.44" width="1.30" height="0.8" fill="#fff"/>
<rect x="639.54" y="249.77" width="1.00" height="0.8" fill="#fff"/>
<rect x="642.16" y="249.51" width="0.70" height="1.0" fill="#fff"/>
<rect x="628.17" y="250.62" width="1.10" height="0.9" fill="#fff"/>
<rect x="629.82" y="250.85" width="1.30" height="0.8" fill="#fff"/>
<rect x="630.95" y="250.91" width="1.00" height="0.9" fill="#fff"/>
<rect x="632.02" y="250.92" width="1.00" height="0.8" fill="#fff"/>
<rect x="633.49" y="250.71" width="0.90" height="0.9" fill="#fff"/>
<rect x="634.98" y="250.99" width="0.90" height="1.0" fill="#fff"/>
<rect x="636.18" y="250.86" width="1.10" height="0.8" fill="#fff"/>
<rect x="637.37" y="250.93" width="1.10" height="0.8" fill="#fff"/>
<rect x="641.27" y="250.88" width="1.10" height="0.8" fill="#fff"/>
<rect x="627.49" y="252.01" width="1.00" height="0.9" fill="#fff"/>
<rect x="629.23" y="252.16" width="1.00" height="0.9" fill="#fff"/>
<rect x="631.68" y="252.13" width="1.10" height="1.0" fill="#fff"/>
<rect x="632.98" y="251.92" width="1.10" height="0.9" fill="#fff"/>
<rect x="635.36" y="252.22" width="0.90" height="0.8" fill="#fff"/>
<rect x="636.84" y="252.13" width="1.00" height="1.0" fill="#fff"/>
<rect x="639.37" y="251.98" width="1.00" height="1.0" fill="#fff"/>
<rect x="640.82" y="251.96" width="1.00" height="1.0" fill="#fff"/>
<rect x="628.39" y="253.45" width="1.00" height="1.0" fill="#fff"/>
<rect x="629.62" y="253.45" width="1.30" height="0.8" fill="#fff"/>
<rect x="633.29" y="253.32" width="1.30" height="1.0" fill="#fff"/>
<rect x="636.35" y="253.46" width="0.90" height="1.0" fill="#fff"/>
<rect x="637.24" y="253.58" width="1.30" height="1.0" fill="#fff"/>
<rect x="638.64" y="253.41" width="0.90" height="0.8" fill="#fff"/>
<rect x="639.77" y="253.45" width="0.90" height="0.9" fill="#fff"/>
<rect x="627.52" y="254.80" width="0.90" height="1.0" fill="#fff"/>
<rect x="628.81" y="254.71" width="1.00" height="1.0" fill="#fff"/>
<rect x="630.47" y="254.75" width="1.10" height="1.0" fill="#fff"/>
<rect x="632.77" y="254.61" width="1.10" height="0.8" fill="#fff"/>
<rect x="634.19" y="254.76" width="1.10" height="1.0" fill="#fff"/>
<rect x="635.41" y="254.65" width="1.10" height="1.0" fill="#fff"/>
<rect x="636.73" y="254.70" width="1.00" height="0.9" fill="#fff"/>
<rect x="638.25" y="254.59" width="1.30" height="0.8" fill="#fff"/>
<rect x="639.23" y="254.82" width="1.10" height="0.8" fill="#fff"/>
<rect x="642.19" y="254.62" width="0.70" height="1.0" fill="#fff"/>
<rect x="628.06" y="255.77" width="1.10" height="0.9" fill="#fff"/>
<rect x="629.75" y="255.62" width="1.30" height="0.8" fill="#fff"/>
<rect x="631.13" y="255.95" width="1.30" height="0.9" fill="#fff"/>
<rect x="632.21" y="255.78" width="1.00" height="1.0" fill="#fff"/>
<rect x="633.54" y="255.62" width="1.10" height="0.8" fill="#fff"/>
<rect x="634.78" y="255.89" width="1.10" height="1.0" fill="#fff"/>
<rect x="635.85" y="255.89" width="1.10" height="0.9" fill="#fff"/>
<rect x="637.38" y="256.09" width="0.90" height="0.8" fill="#fff"/>
<rect x="638.79" y="255.74" width="1.00" height="1.0" fill="#fff"/>
<rect x="640.03" y="255.86" width="1.10" height="0.9" fill="#fff"/>
<rect x="85.20" y="469.00" width="17.80" height="15.60" fill="#000"/>
<rect x="87.84" y="470.27" width="0.90" height="0.8" fill="#fff"/>
<rect x="89.15" y="470.07" width="1.10" height="0.9" fill="#fff"/>
<rect x="91.83" y="470.12" width="0.90" height="0.9" fill="#fff"/>
<rect x="93.09" y="470.31" width="1.00" height="0.9" fill="#fff"/>
<rect x="94.11" y="470.44" width="1.10" height="1.0" fill="#fff"/>
<rect x="95.65" y="470.45" width="1.10" height="0.8" fill="#fff"/>
<rect x="96.99" y="470.29" width="1.00" height="0.8" fill="#fff"/>
<rect x="98.24" y="470.41" width="1.30" height="1.0" fill="#fff"/>
<rect x="99.51" y="470.08" width="1.00" height="0.9" fill="#fff"/>
<rect x="100.91" y="470.24" width="1.10" height="0.8" fill="#fff"/>
<rect x="87.04" y="471.69" width="1.00" height="0.9" fill="#fff"/>
<rect x="88.48" y="471.23" width="1.30" height="1.0" fill="#fff"/>
<rect x="89.80" y="471.47" width="1.00" height="0.9" fill="#fff"/>
<rect x="91.96" y="471.22" width="1.00" height="1.0" fill="#fff"/>
<rect x="93.57" y="471.30" width="1.10" height="1.0" fill="#fff"/>
<rect x="97.55" y="471.64" width="0.90" height="0.8" fill="#fff"/>
<rect x="98.54" y="471.47" width="1.00" height="0.8" fill="#fff"/>
<rect x="101.21" y="471.63" width="0.60" height="0.8" fill="#fff"/>
<rect x="86.45" y="472.85" width="1.30" height="0.9" fill="#fff"/>
<rect x="87.49" y="472.76" width="1.30" height="0.8" fill="#fff"/>
<rect x="91.36" y="472.61" width="1.30" height="0.8" fill="#fff"/>
<rect x="92.86" y="472.81" width="1.10" height="0.8" fill="#fff"/>
<rect x="95.36" y="472.71" width="0.90" height="0.8" fill="#fff"/>
<rect x="98.02" y="472.79" width="1.10" height="0.9" fill="#fff"/>
<rect x="100.82" y="472.58" width="1.10" height="0.8" fill="#fff"/>
<rect x="86.90" y="474.09" width="0.90" height="1.0" fill="#fff"/>
<rect x="89.61" y="474.17" width="1.10" height="0.9" fill="#fff"/>
<rect x="90.89" y="474.03" width="0.90" height="1.0" fill="#fff"/>
<rect x="93.63" y="473.74" width="1.00" height="0.9" fill="#fff"/>
<rect x="94.58" y="473.95" width="1.00" height="0.8" fill="#fff"/>
<rect x="96.32" y="473.88" width="1.00" height="0.9" fill="#fff"/>
<rect x="97.58" y="474.09" width="1.00" height="1.0" fill="#fff"/>
<rect x="98.57" y="474.19" width="1.10" height="1.0" fill="#fff"/>
<rect x="99.98" y="473.86" width="1.10" height="0.9" fill="#fff"/>
<rect x="86.55" y="475.41" width="0.90" height="0.8" fill="#fff"/>
<rect x="87.56" y="475.14" width="1.10" height="0.8" fill="#fff"/>
<rect x="90.18" y="475.08" width="1.00" height="0.8" fill="#fff"/>
<rect x="91.45" y="475.33" width="1.00" height="0.9" fill="#fff"/>
<rect x="92.76" y="475.23" width="1.10" height="0.9" fill="#fff"/>
<rect x="94.36" y="475.09" width="1.10" height="0.8" fill="#fff"/>
<rect x="95.33" y="475.29" width="1.30" height="0.8" fill="#fff"/>
<rect x="96.84" y="475.39" width="1.30" height="0.8" fill="#fff"/>
<rect x="98.24" y="475.38" width="1.10" height="0.8" fill="#fff"/>
<rect x="99.49" y="475.35" width="1.00" height="0.9" fill="#fff"/>
<rect x="100.91" y="475.03" width="0.90" height="0.8" fill="#fff"/>
<rect x="88.39" y="476.25" width="1.00" height="0.9" fill="#fff"/>
<rect x="89.84" y="476.22" width="1.30" height="0.9" fill="#fff"/>
<rect x="90.72" y="476.50" width="0.90" height="0.8" fill="#fff"/>
<rect x="91.96" y="476.70" width="0.90" height="1.0" fill="#fff"/>
<rect x="93.73" y="476.69" width="0.90" height="0.8" fill="#fff"/>
<rect x="94.66" y="476.47" width="0.90" height="0.8" fill="#fff"/>
<rect x="96.03" y="476.45" width="0.90" height="1.0" fill="#fff"/>
<rect x="98.82" y="476.34" width="1.00" height="0.8" fill="#fff"/>
<rect x="99.78" y="476.22" width="1.10" height="0.9" fill="#fff"/>
<rect x="101.53" y="476.33" width="0.60" height="1.0" fill="#fff"/>
<rect x="86.38" y="477.59" width="0.90" height="1.0" fill="#fff"/>
<rect x="87.81" y="477.65" width="1.30" height="1.0" fill="#fff"/>
<rect x="89.24" y="477.64" width="1.30" height="0.9" fill="#fff"/>
<rect x="90.50" y="477.77" width="1.30" height="0.8" fill="#fff"/>
<rect x="91.66" y="477.64" width="1.10" height="1.0" fill="#fff"/>
<rect x="92.71" y="477.87" width="1.00" height="1.0" fill="#fff"/>
<rect x="96.87" y="477.72" width="1.10" height="1.0" fill="#fff"/>
<rect x="98.22" y="477.88" width="0.90" height="0.9" fill="#fff"/>
<rect x="99.56" y="477.85" width="1.30" height="0.8" fill="#fff"/>
<rect x="87.24" y="478.83" width="0.90" height="0.9" fill="#fff"/>
<rect x="88.36" y="478.97" width="1.10" height="0.8" fill="#fff"/>
<rect x="89.80" y="478.94" width="1.10" height="0.9" fill="#fff"/>
<rect x="92.06" y="478.77" width="1.30" height="1.0" fill="#fff"/>
<rect x="94.63" y="478.88" width="1.00" height="1.0" fill="#fff"/>
<rect x="96.08" y="479.02" width="1.00" height="1.0" fill="#fff"/>
<rect x="101.47" y="479.11" width="0.60" height="0.9" fill="#fff"/>
<rect x="86.28" y="480.00" width="1.00" height="1.0" fill="#fff"/>
<rect x="87.78" y="480.09" width="1.10" height="0.9" fill="#fff"/>
<rect x="88.81" y="480.27" width="1.30" height="1.0" fill="#fff"/>
<rect x="91.69" y="480.13" width="1.00" height="0.8" fill="#fff"/>
<rect x="92.84" y="480.12" width="1.00" height="1.0" fill="#fff"/>
<rect x="94.05" y="480.24" width="0.90" height="1.0" fill="#fff"/>
<rect x="95.61" y="480.09" width="1.00" height="0.9" fill="#fff"/>
<rect x="96.97" y="480.00" width="1.00" height="0.9" fill="#fff"/>
<rect x="97.91" y="480.43" width="0.90" height="0.8" fill="#fff"/>
<rect x="99.51" y="480.14" width="1.10" height="0.8" fill="#fff"/>
<rect x="100.67" y="480.25" width="1.10" height="0.9" fill="#fff"/>
<rect x="87.17" y="481.26" width="1.00" height="0.9" fill="#fff"/>
<rect x="88.38" y="481.36" width="1.10" height="0.8" fill="#fff"/>
<rect x="89.55" y="481.41" width="1.30" height="0.9" fill="#fff"/>
<rect x="92.25" y="481.43" width="0.90" height="0.8" fill="#fff"/>
<rect x="93.75" y="481.29" width="1.30" height="0.9" fill="#fff"/>
<rect x="94.62" y="481.58" width="1.30" height="0.9" fill="#fff"/>
<rect x="95.95" y="481.47" width="1.00" height="1.0" fill="#fff"/>
<rect x="98.83" y="481.26" width="1.10" height="0.9" fill="#fff"/>
<rect x="100.16" y="481.25" width="0.90" height="1.0" fill="#fff"/>
<rect x="101.28" y="481.61" width="0.60" height="1.0" fill="#fff"/>
<rect x="86.58" y="482.73" width="1.10" height="0.9" fill="#fff"/>
<rect x="90.49" y="482.52" width="1.30" height="0.8" fill="#fff"/>
<rect x="91.84" y="482.59" width="0.90" height="0.8" fill="#fff"/>
<rect x="92.78" y="482.88" width="1.10" height="0.9" fill="#fff"/>
<rect x="93.98" y="482.60" width="1.30" height="1.0" fill="#fff"/>
<rect x="99.18" y="482.72" width="1.00" height="0.8" fill="#fff"/>
<rect x="100.69" y="482.74" width="1.20" height="1.0" fill="#fff"/>
<rect x="356.20" y="469.00" width="17.80" height="15.60" fill="#000"/>
<rect x="357.38" y="470.30" width="1.10" height="0.8" fill="#fff"/>
<rect x="358.72" y="470.15" width="1.10" height="0.8" fill="#fff"/>
<rect x="359.89" y="470.35" width="1.10" height="0.8" fill="#fff"/>
<rect x="361.36" y="470.15" width="1.00" height="1.0" fill="#fff"/>
<rect x="363.74" y="470.38" width="1.00" height="0.8" fill="#fff"/>
<rect x="365.36" y="470.20" width="1.00" height="0.8" fill="#fff"/>
<rect x="366.36" y="470.31" width="1.00" height="0.9" fill="#fff"/>
<rect x="370.54" y="470.31" width="1.00" height="0.8" fill="#fff"/>
<rect x="371.55" y="470.00" width="1.20" height="0.8" fill="#fff"/>
<rect x="358.17" y="471.55" width="1.00" height="1.0" fill="#fff"/>
<rect x="359.48" y="471.66" width="1.30" height="0.8" fill="#fff"/>
<rect x="360.50" y="471.32" width="1.00" height="0.9" fill="#fff"/>
<rect x="361.93" y="471.28" width="1.10" height="1.0" fill="#fff"/>
<rect x="364.72" y="471.53" width="1.00" height="0.8" fill="#fff"/>
<rect x="365.74" y="471.52" width="0.90" height="0.9" fill="#fff"/>
<rect x="367.08" y="471.56" width="0.90" height="0.8" fill="#fff"/>
<rect x="368.17" y="471.38" width="1.30" height="0.8" fill="#fff"/>
<rect x="369.92" y="471.46" width="1.00" height="1.0" fill="#fff"/>
<rect x="371.13" y="471.45" width="1.10" height="0.8" fill="#fff"/>
<rect x="358.88" y="472.75" width="1.30" height="0.9" fill="#fff"/>
<rect x="359.82" y="472.59" width="0.90" height="0.8" fill="#fff"/>
<rect x="363.94" y="472.50" width="1.10" height="0.8" fill="#fff"/>
<rect x="365.28" y="472.48" width="1.00" height="0.8" fill="#fff"/>
<rect x="366.37" y="472.82" width="1.30" height="0.9" fill="#fff"/>
<rect x="367.91" y="472.68" width="1.10" height="0.8" fill="#fff"/>
<rect x="370.35" y="472.47" width="1.00" height="1.0" fill="#fff"/>
<rect x="371.77" y="472.52" width="0.90" height="0.9" fill="#fff"/>
<rect x="357.94" y="474.03" width="1.10" height="0.8" fill="#fff"/>
<rect x="359.52" y="473.87" width="1.00" height="1.0" fill="#fff"/>
<rect x="363.00" y="474.14" width="1.00" height="0.9" fill="#fff"/>
<rect x="364.52" y="473.76" width="1.30" height="0.9" fill="#fff"/>
<rect x="365.82" y="473.95" width="1.00" height="1.0" fill="#fff"/>
<rect x="367.05" y="473.80" width="1.00" height="0.9" fill="#fff"/>
<rect x="368.59" y="473.95" width="1.00" height="1.0" fill="#fff"/>
<rect x="371.15" y="474.05" width="0.90" height="0.9" fill="#fff"/>
<rect x="357.53" y="475.03" width="1.00" height="0.8" fill="#fff"/>
<rect x="358.65" y="475.21" width="0.90" height="0.9" fill="#fff"/>
<rect x="360.08" y="475.06" width="0.90" height="0.8" fill="#fff"/>
<rect x="361.09" y="475.12" width="0.90" height="0.8" fill="#fff"/>
<rect x="362.74" y="475.04" width="1.00" height="1.0" fill="#fff"/>
<rect x="363.95" y="475.04" width="0.90" height="0.9" fill="#fff"/>
<rect x="364.97" y="475.34" width="1.30" height="0.9" fill="#fff"/>
<rect x="366.65" y="475.34" width="1.00" height="0.8" fill="#fff"/>
<rect x="367.72" y="475.44" width="1.00" height="1.0" fill="#fff"/>
<rect x="371.84" y="475.40" width="1.20" height="1.0" fill="#fff"/>
<rect x="359.08" y="476.38" width="1.00" height="1.0" fill="#fff"/>
<rect x="360.43" y="476.68" width="1.10" height="1.0" fill="#fff"/>
<rect x="361.78" y="476.55" width="1.30" height="0.8" fill="#fff"/>
<rect x="363.18" y="476.59" width="0.90" height="1.0" fill="#fff"/>
<rect x="364.44" y="476.52" width="1.00" height="0.9" fill="#fff"/>
<rect x="367.33" y="476.59" width="0.90" height="0.8" fill="#fff"/>
<rect x="368.25" y="476.43" width="1.00" height="0.8" fill="#fff"/>
<rect x="369.90" y="476.54" width="1.30" height="1.0" fill="#fff"/>
<rect x="371.14" y="476.60" width="1.30" height="1.0" fill="#fff"/>
<rect x="357.35" y="477.49" width="1.10" height="0.9" fill="#fff"/>
<rect x="358.75" y="477.87" width="1.10" height="1.0" fill="#fff"/>
<rect x="361.06" y="477.51" width="1.30" height="1.0" fill="#fff"/>
<rect x="363.72" y="477.72" width="1.10" height="0.9" fill="#fff"/>
<rect x="365.26" y="477.60" width="1.30" height="0.9" fill="#fff"/>
<rect x="366.60" y="477.67" width="1.10" height="0.8" fill="#fff"/>
<rect x="367.66" y="477.76" width="1.00" height="0.8" fill="#fff"/>
<rect x="368.99" y="477.93" width="1.00" height="0.9" fill="#fff"/>
<rect x="370.59" y="477.76" width="1.00" height="0.9" fill="#fff"/>
<rect x="358.23" y="478.95" width="1.30" height="0.9" fill="#fff"/>
<rect x="360.61" y="478.70" width="1.00" height="0.9" fill="#fff"/>
<rect x="361.93" y="479.03" width="1.00" height="0.9" fill="#fff"/>
<rect x="364.71" y="479.15" width="1.30" height="0.8" fill="#fff"/>
<rect x="365.86" y="478.92" width="0.90" height="1.0" fill="#fff"/>
<rect x="368.55" y="478.73" width="1.30" height="1.0" fill="#fff"/>
<rect x="369.80" y="478.71" width="1.30" height="0.9" fill="#fff"/>
<rect x="358.61" y="480.21" width="1.30" height="0.9" fill="#fff"/>
<rect x="360.22" y="480.19" width="1.30" height="0.8" fill="#fff"/>
<rect x="361.14" y="480.41" width="1.10" height="0.8" fill="#fff"/>
<rect x="362.72" y="480.27" width="1.30" height="0.8" fill="#fff"/>
<rect x="364.04" y="479.96" width="1.00" height="0.9" fill="#fff"/>
<rect x="364.99" y="480.43" width="1.30" height="1.0" fill="#fff"/>
<rect x="366.43" y="480.40" width="1.30" height="1.0" fill="#fff"/>
<rect x="367.95" y="480.12" width="1.30" height="0.8" fill="#fff"/>
<rect x="369.00" y="480.21" width="0.90" height="0.8" fill="#fff"/>
<rect x="370.30" y="480.14" width="0.90" height="1.0" fill="#fff"/>
<rect x="359.15" y="481.36" width="1.10" height="0.9" fill="#fff"/>
<rect x="360.48" y="481.40" width="0.90" height="1.0" fill="#fff"/>
<rect x="361.71" y="481.66" width="1.30" height="0.9" fill="#fff"/>
<rect x="363.03" y="481.65" width="1.30" height="1.0" fill="#fff"/>
<rect x="364.49" y="481.48" width="1.10" height="1.0" fill="#fff"/>
<rect x="365.75" y="481.56" width="0.90" height="0.9" fill="#fff"/>
<rect x="366.91" y="481.42" width="1.10" height="1.0" fill="#fff"/>
<rect x="368.45" y="481.38" width="1.10" height="0.9" fill="#fff"/>
<rect x="358.51" y="482.60" width="1.30" height="1.0" fill="#fff"/>
<rect x="359.95" y="482.92" width="0.90" height="0.9" fill="#fff"/>
<rect x="362.75" y="482.62" width="1.30" height="0.9" fill="#fff"/>
<rect x="364.02" y="482.66" width="1.00" height="1.0" fill="#fff"/>
<rect x="366.59" y="482.91" width="1.00" height="0.9" fill="#fff"/>
<rect x="367.88" y="482.74" width="0.90" height="1.0" fill="#fff"/>
<rect x="369.24" y="482.87" width="1.10" height="1.0" fill="#fff"/>
<rect x="370.21" y="482.59" width="1.00" height="1.0" fill="#fff"/>
<rect x="371.52" y="482.80" width="1.20" height="0.9" fill="#fff"/>
<rect x="626.40" y="469.00" width="17.40" height="15.60" fill="#000"/>
<rect x="627.38" y="470.25" width="1.10" height="1.0" fill="#fff"/>
<rect x="630.10" y="470.13" width="1.00" height="0.8" fill="#fff"/>
<rect x="631.26" y="470.21" width="0.90" height="0.9" fill="#fff"/>
<rect x="632.55" y="470.26" width="1.10" height="0.8" fill="#fff"/>
<rect x="633.88" y="470.17" width="1.10" height="1.0" fill="#fff"/>
<rect x="635.42" y="470.18" width="0.90" height="0.8" fill="#fff"/>
<rect x="636.92" y="470.43" width="1.10" height="1.0" fill="#fff"/>
<rect x="638.03" y="470.36" width="1.00" height="0.8" fill="#fff"/>
<rect x="639.44" y="469.96" width="0.90" height="0.8" fill="#fff"/>
<rect x="640.38" y="470.27" width="1.30" height="0.9" fill="#fff"/>
<rect x="628.21" y="471.49" width="1.30" height="0.9" fill="#fff"/>
<rect x="629.73" y="471.36" width="0.90" height="0.9" fill="#fff"/>
<rect x="631.92" y="471.43" width="1.30" height="1.0" fill="#fff"/>
<rect x="633.32" y="471.29" width="1.30" height="0.8" fill="#fff"/>
<rect x="634.49" y="471.65" width="1.10" height="0.8" fill="#fff"/>
<rect x="636.12" y="471.59" width="1.00" height="1.0" fill="#fff"/>
<rect x="637.44" y="471.21" width="1.10" height="1.0" fill="#fff"/>
<rect x="639.83" y="471.41" width="0.90" height="0.8" fill="#fff"/>
<rect x="627.53" y="472.53" width="1.10" height="1.0" fill="#fff"/>
<rect x="628.70" y="472.82" width="1.10" height="0.9" fill="#fff"/>
<rect x="630.35" y="472.68" width="1.30" height="0.8" fill="#fff"/>
<rect x="631.43" y="472.89" width="0.90" height="0.8" fill="#fff"/>
<rect x="632.95" y="472.69" width="0.90" height="0.9" fill="#fff"/>
<rect x="635.43" y="472.70" width="0.90" height="1.0" fill="#fff"/>
<rect x="636.46" y="472.90" width="1.10" height="1.0" fill="#fff"/>
<rect x="638.11" y="472.53" width="1.30" height="1.0" fill="#fff"/>
<rect x="640.41" y="472.81" width="1.00" height="0.8" fill="#fff"/>
<rect x="642.06" y="472.94" width="0.80" height="0.8" fill="#fff"/>
<rect x="628.39" y="473.97" width="0.90" height="0.8" fill="#fff"/>
<rect x="629.56" y="474.14" width="1.10" height="0.9" fill="#fff"/>
<rect x="630.67" y="474.15" width="1.00" height="0.8" fill="#fff"/>
<rect x="632.15" y="473.76" width="0.90" height="0.8" fill="#fff"/>
<rect x="633.44" y="474.02" width="1.30" height="1.0" fill="#fff"/>
<rect x="634.74" y="474.06" width="1.30" height="0.8" fill="#fff"/>
<rect x="637.37" y="474.05" width="1.00" height="1.0" fill="#fff"/>
<rect x="638.80" y="474.00" width="1.00" height="0.8" fill="#fff"/>
<rect x="639.65" y="473.98" width="1.00" height="0.8" fill="#fff"/>
<rect x="627.40" y="475.44" width="0.90" height="0.8" fill="#fff"/>
<rect x="630.07" y="475.42" width="0.90" height="0.9" fill="#fff"/>
<rect x="631.57" y="475.41" width="0.90" height="1.0" fill="#fff"/>
<rect x="632.56" y="475.33" width="1.00" height="0.9" fill="#fff"/>
<rect x="633.92" y="475.21" width="0.90" height="0.8" fill="#fff"/>
<rect x="635.40" y="475.43" width="1.10" height="0.8" fill="#fff"/>
<rect x="636.88" y="475.23" width="0.90" height="0.8" fill="#fff"/>
<rect x="639.08" y="475.22" width="0.90" height="1.0" fill="#fff"/>
<rect x="640.35" y="475.32" width="1.30" height="1.0" fill="#fff"/>
<rect x="641.71" y="475.28" width="0.80" height="0.8" fill="#fff"/>
<rect x="628.26" y="476.24" width="1.30" height="0.8" fill="#fff"/>
<rect x="629.62" y="476.62" width="0.90" height="0.8" fill="#fff"/>
<rect x="632.00" y="476.58" width="1.10" height="0.9" fill="#fff"/>
<rect x="633.15" y="476.24" width="1.10" height="0.8" fill="#fff"/>
<rect x="634.64" y="476.69" width="1.00" height="1.0" fill="#fff"/>
<rect x="637.43" y="476.24" width="1.00" height="1.0" fill="#fff"/>
<rect x="638.71" y="476.54" width="0.90" height="1.0" fill="#fff"/>
<rect x="639.74" y="476.67" width="1.30" height="0.8" fill="#fff"/>
<rect x="641.34" y="476.62" width="1.00" height="0.9" fill="#fff"/>
<rect x="627.43" y="477.53" width="1.30" height="0.8" fill="#fff"/>
<rect x="630.37" y="477.95" width="1.30" height="1.0" fill="#fff"/>
<rect x="632.76" y="477.46" width="1.00" height="0.8" fill="#fff"/>
<rect x="633.85" y="477.84" width="1.10" height="0.9" fill="#fff"/>
<rect x="635.42" y="477.50" width="1.10" height="0.8" fill="#fff"/>
<rect x="637.78" y="477.51" width="1.10" height="0.9" fill="#fff"/>
<rect x="639.08" y="477.78" width="1.00" height="1.0" fill="#fff"/>
<rect x="640.69" y="477.93" width="1.30" height="1.0" fill="#fff"/>
<rect x="641.79" y="477.90" width="0.80" height="0.8" fill="#fff"/>
<rect x="628.31" y="479.19" width="1.10" height="0.9" fill="#fff"/>
<rect x="629.59" y="479.05" width="1.30" height="1.0" fill="#fff"/>
<rect x="633.20" y="479.13" width="1.10" height="0.8" fill="#fff"/>
<rect x="634.48" y="478.73" width="1.00" height="1.0" fill="#fff"/>
<rect x="636.11" y="478.97" width="0.90" height="0.8" fill="#fff"/>
<rect x="637.33" y="479.06" width="0.90" height="0.8" fill="#fff"/>
<rect x="638.44" y="478.75" width="1.10" height="0.9" fill="#fff"/>
<rect x="639.99" y="478.92" width="1.30" height="1.0" fill="#fff"/>
<rect x="627.51" y="480.05" width="1.30" height="0.9" fill="#fff"/>
<rect x="629.08" y="480.35" width="1.00" height="0.8" fill="#fff"/>
<rect x="629.95" y="480.04" width="1.10" height="1.0" fill="#fff"/>
<rect x="632.68" y="479.97" width="1.10" height="1.0" fill="#fff"/>
<rect x="633.98" y="479.99" width="0.90" height="0.9" fill="#fff"/>
<rect x="635.30" y="480.08" width="0.90" height="0.8" fill="#fff"/>
<rect x="639.23" y="480.32" width="1.00" height="0.8" fill="#fff"/>
<rect x="640.68" y="480.39" width="1.00" height="1.0" fill="#fff"/>
<rect x="628.06" y="481.30" width="1.30" height="0.8" fill="#fff"/>
<rect x="629.37" y="481.65" width="1.30" height="0.9" fill="#fff"/>
<rect x="630.60" y="481.39" width="0.90" height="0.8" fill="#fff"/>
<rect x="632.09" y="481.44" width="1.10" height="0.8" fill="#fff"/>
<rect x="633.35" y="481.44" width="1.30" height="0.8" fill="#fff"/>
<rect x="637.15" y="481.33" width="0.90" height="0.8" fill="#fff"/>
<rect x="638.63" y="481.24" width="1.00" height="0.9" fill="#fff"/>
<rect x="639.96" y="481.70" width="1.00" height="1.0" fill="#fff"/>
<rect x="627.61" y="482.57" width="0.90" height="0.9" fill="#fff"/>
<rect x="628.70" y="482.69" width="1.10" height="0.8" fill="#fff"/>
<rect x="630.02" y="482.85" width="1.30" height="1.0" fill="#fff"/>
<rect x="631.39" y="482.84" width="0.90" height="0.8" fill="#fff"/>
<rect x="632.68" y="482.70" width="1.30" height="0.9" fill="#fff"/>
<rect x="634.09" y="482.82" width="0.90" height="1.0" fill="#fff"/>
<rect x="635.48" y="482.52" width="1.00" height="0.9" fill="#fff"/>
<rect x="636.82" y="482.88" width="1.30" height="0.9" fill="#fff"/>
<rect x="637.86" y="482.75" width="1.00" height="1.0" fill="#fff"/>
<rect x="640.49" y="482.94" width="1.00" height="0.8" fill="#fff"/>
<line x1="35.30" y1="288.60" x2="138.60" y2="288.60" stroke="#000" stroke-width="1"/>
<line x1="35.30" y1="291.30" x2="136.30" y2="291.30" stroke="#000" stroke-width="1"/>
<line x1="138.60" y1="288.60" x2="138.60" y2="296.20" stroke="#000" stroke-width="1"/>
<rect x="113.10" y="294.10" width="25.50" height="2.30" fill="#000"/>
<rect x="135.80" y="291.30" width="3.30" height="5.10" fill="#000"/>
<path d="M113.60 296.20 A22.70 21.60 0 0 0 136.30 317.80" fill="none" stroke="#000" stroke-width="1.2"/>
<rect x="135.30" y="317.20" width="3.80" height="2.00" fill="#000"/>
<line x1="135.80" y1="318.00" x2="135.80" y2="443.50" stroke="#000" stroke-width="1"/>
<line x1="138.60" y1="318.00" x2="138.60" y2="443.50" stroke="#000" stroke-width="1"/>
<rect x="135.30" y="442.00" width="3.80" height="2.20" fill="#000"/>
<path d="M135.90 443.50 A22.60 22.10 0 0 0 113.30 465.60" fill="none" stroke="#000" stroke-width="1.2"/>
<rect x="113.10" y="464.80" width="25.80" height="1.90" fill="#000"/>
<rect x="135.30" y="464.60" width="3.80" height="3.80" fill="#000"/>
<line x1="135.80" y1="467.00" x2="135.80" y2="481.60" stroke="#000" stroke-width="1"/>
<line x1="138.60" y1="467.00" x2="138.60" y2="481.60" stroke="#000" stroke-width="1"/>
<line x1="175.70" y1="288.10" x2="175.70" y2="371.90" stroke="#000" stroke-width="1"/>
<line x1="178.50" y1="291.30" x2="178.50" y2="368.60" stroke="#000" stroke-width="1"/>
<line x1="175.70" y1="288.60" x2="197.00" y2="288.60" stroke="#000" stroke-width="1"/>
<line x1="178.50" y1="291.30" x2="197.00" y2="291.30" stroke="#000" stroke-width="1"/>
<rect x="195.00" y="288.10" width="2.20" height="3.70" fill="#000"/>
<rect x="218.30" y="288.10" width="2.20" height="3.70" fill="#000"/>
<line x1="218.50" y1="288.60" x2="333.30" y2="288.60" stroke="#000" stroke-width="1"/>
<line x1="336.00" y1="288.60" x2="438.40" y2="288.60" stroke="#000" stroke-width="1"/>
<line x1="218.50" y1="291.30" x2="288.90" y2="291.30" stroke="#000" stroke-width="1"/>
<line x1="291.50" y1="291.30" x2="441.30" y2="291.30" stroke="#000" stroke-width="1"/>
<line x1="288.90" y1="291.30" x2="288.90" y2="368.60" stroke="#000" stroke-width="1"/>
<line x1="291.50" y1="291.30" x2="291.50" y2="368.60" stroke="#000" stroke-width="1"/>
<line x1="273.40" y1="316.30" x2="273.40" y2="368.60" stroke="#222" stroke-width="1"/>
<line x1="273.40" y1="316.30" x2="288.50" y2="316.30" stroke="#222" stroke-width="1"/>
<rect x="275.70" y="351.50" width="11.30" height="12.70" fill="#aaa" stroke="#000" stroke-width="1" rx="1.5"/>
<rect x="277.30" y="353.50" width="6.70" height="9.10" fill="#fff" stroke="#000" stroke-width="0.8" rx="0"/>
<rect x="285.50" y="352.20" width="2.00" height="11.60" fill="#000"/>
<line x1="281.40" y1="316.30" x2="281.40" y2="368.60" stroke="#222" stroke-width="1"/>
<line x1="178.50" y1="368.60" x2="316.60" y2="368.60" stroke="#000" stroke-width="1"/>
<line x1="175.20" y1="371.40" x2="254.40" y2="371.40" stroke="#000" stroke-width="1"/>
<line x1="257.10" y1="371.40" x2="316.60" y2="371.40" stroke="#000" stroke-width="1"/>
<rect x="316.60" y="368.30" width="22.70" height="3.40" fill="#3a3a3a"/>
<rect x="316.20" y="368.10" width="1.80" height="3.80" fill="#000"/>
<rect x="337.80" y="368.10" width="1.80" height="3.80" fill="#000"/>
<path d="M339.30 371.40 A22.00 22.40 0 0 0 361.30 393.80" fill="none" stroke="#000" stroke-width="1.2"/>
<rect x="360.80" y="369.00" width="2.10" height="25.00" fill="#000"/>
<rect x="361.10" y="368.60" width="11.70" height="2.80" fill="none" stroke="#000" stroke-width="1" rx="0"/>
<rect x="370.60" y="369.00" width="2.20" height="25.00" fill="#000"/>
<path d="M372.60 393.80 A22.20 22.40 0 0 0 394.80 371.40" fill="none" stroke="#000" stroke-width="1.2"/>
<rect x="394.60" y="368.30" width="22.80" height="3.40" fill="#3a3a3a"/>
<rect x="394.40" y="368.10" width="1.80" height="3.80" fill="#000"/>
<rect x="415.40" y="368.10" width="1.80" height="3.80" fill="#000"/>
<line x1="417.00" y1="368.60" x2="527.80" y2="368.60" stroke="#000" stroke-width="1"/>
<line x1="417.00" y1="371.40" x2="443.80" y2="371.40" stroke="#000" stroke-width="1"/>
<line x1="446.70" y1="371.40" x2="527.80" y2="371.40" stroke="#000" stroke-width="1"/>
<line x1="527.40" y1="368.10" x2="527.40" y2="371.90" stroke="#000" stroke-width="1"/>
<line x1="365.40" y1="371.40" x2="365.40" y2="469.20" stroke="#000" stroke-width="1"/>
<line x1="368.30" y1="371.40" x2="368.30" y2="469.20" stroke="#000" stroke-width="1"/>
<line x1="254.40" y1="371.40" x2="254.40" y2="481.60" stroke="#000" stroke-width="1"/>
<line x1="257.10" y1="371.40" x2="257.10" y2="481.60" stroke="#000" stroke-width="1"/>
<line x1="443.80" y1="371.40" x2="443.80" y2="481.60" stroke="#000" stroke-width="1"/>
<line x1="446.70" y1="371.40" x2="446.70" y2="481.60" stroke="#000" stroke-width="1"/>
<line x1="103.00" y1="481.60" x2="201.60" y2="481.60" stroke="#000" stroke-width="1"/>
<line x1="103.00" y1="484.30" x2="204.30" y2="484.30" stroke="#000" stroke-width="1"/>
<path d="M201.6 481.6 V459.2 H207" fill="none" stroke="#000" stroke-width="1" stroke-linejoin="miter"/>
<line x1="204.20" y1="461.00" x2="204.20" y2="484.30" stroke="#000" stroke-width="1"/>
<rect x="205.70" y="459.80" width="1.90" height="24.90" fill="#000"/>
<path d="M207.40 484.30 A22.00 25.10 0 0 0 229.40 459.20" fill="none" stroke="#000" stroke-width="1.2"/>
<path d="M229.40 459.20 A22.00 25.10 0 0 0 251.40 484.30" fill="none" stroke="#000" stroke-width="1.2"/>
<rect x="250.30" y="459.90" width="1.70" height="24.80" fill="#000"/>
<line x1="252.70" y1="460.00" x2="252.70" y2="484.30" stroke="#888" stroke-width="1"/>
<path d="M251 459.5 H254.4" fill="none" stroke="#000" stroke-width="1" stroke-linejoin="miter"/>
<line x1="257.10" y1="481.60" x2="356.50" y2="481.60" stroke="#000" stroke-width="1"/>
<line x1="254.40" y1="484.30" x2="356.50" y2="484.30" stroke="#000" stroke-width="1"/>
<line x1="374.00" y1="481.60" x2="472.40" y2="481.60" stroke="#000" stroke-width="1"/>
<line x1="374.00" y1="484.30" x2="475.20" y2="484.30" stroke="#000" stroke-width="1"/>
<path d="M472.4 481.6 V459.2 H478" fill="none" stroke="#000" stroke-width="1" stroke-linejoin="miter"/>
<line x1="474.90" y1="461.00" x2="474.90" y2="484.30" stroke="#000" stroke-width="1"/>
<rect x="476.70" y="459.80" width="1.80" height="24.90" fill="#000"/>
<path d="M478.20 484.30 A22.00 25.10 0 0 0 500.30 459.20" fill="none" stroke="#000" stroke-width="1.2"/>
<path d="M500.30 459.20 A22.00 25.10 0 0 0 522.50 484.30" fill="none" stroke="#000" stroke-width="1.2"/>
<rect x="521.00" y="459.80" width="1.90" height="24.90" fill="#000"/>
<line x1="524.80" y1="461.00" x2="524.80" y2="484.30" stroke="#000" stroke-width="1"/>
<path d="M522 459.2 H527.8 V481.6" fill="none" stroke="#000" stroke-width="1" stroke-linejoin="miter"/>
<line x1="527.80" y1="481.60" x2="627.20" y2="481.60" stroke="#000" stroke-width="1"/>
<line x1="525.00" y1="484.30" x2="627.20" y2="484.30" stroke="#000" stroke-width="1"/>
<rect x="643.90" y="469.60" width="27.60" height="14.70" fill="none" stroke="#000" stroke-width="1" rx="0"/>
<rect x="644.90" y="471.00" width="24.60" height="11.30" fill="none" stroke="#000" stroke-width="0.8" rx="0"/>
<line x1="644.90" y1="471.00" x2="669.50" y2="482.30" stroke="#000" stroke-width="0.8"/>
<line x1="644.90" y1="482.30" x2="669.50" y2="471.00" stroke="#000" stroke-width="0.8"/>
<line x1="604.00" y1="382.60" x2="604.00" y2="481.60" stroke="#000" stroke-width="1"/>
<line x1="606.60" y1="382.60" x2="606.60" y2="481.60" stroke="#000" stroke-width="1"/>
<rect x="603.50" y="382.30" width="3.60" height="2.10" fill="#000"/>
<line x1="426.50" y1="228.50" x2="487.20" y2="228.50" stroke="#000" stroke-width="1"/>
<line x1="426.50" y1="231.30" x2="487.20" y2="231.30" stroke="#000" stroke-width="1"/>
<rect x="485.40" y="228.00" width="2.40" height="3.80" fill="#000"/>
<rect x="508.60" y="205.60" width="2.00" height="25.90" fill="#000"/>
<path d="M487.40 228.50 A22.20 22.80 0 0 1 509.50 205.80" fill="none" stroke="#000" stroke-width="1.2"/>
<rect x="509.20" y="228.50" width="7.20" height="2.80" fill="none" stroke="#000" stroke-width="1" rx="0"/>
<rect x="519.20" y="207.40" width="2.30" height="23.20" fill="#000"/>
<line x1="516.40" y1="205.50" x2="521.30" y2="205.50" stroke="#000" stroke-width="1"/>
<rect x="518.00" y="205.00" width="3.50" height="2.60" fill="#000"/>
<path d="M520.30 230.40 A22.60 22.40 0 0 0 542.90 208.20" fill="none" stroke="#000" stroke-width="1.2"/>
<line x1="543.00" y1="205.50" x2="604.00" y2="205.50" stroke="#000" stroke-width="1"/>
<line x1="543.00" y1="208.40" x2="604.00" y2="208.40" stroke="#000" stroke-width="1"/>
<rect x="542.50" y="205.00" width="2.10" height="3.90" fill="#000"/>
<line x1="438.40" y1="231.30" x2="438.40" y2="241.60" stroke="#000" stroke-width="1"/>
<line x1="441.30" y1="231.30" x2="441.30" y2="241.60" stroke="#555" stroke-width="1"/>
<path d="M439 241.6 L453.6 255.1" fill="none" stroke="#000" stroke-width="1.8" stroke-linejoin="miter"/>
<path d="M453.6 255.1 Q447 259.3 438.4 259.6" fill="none" stroke="#000" stroke-width="1" stroke-linejoin="miter"/>
<path d="M438.4 259.6 Q447 259.9 453.6 264.3" fill="none" stroke="#000" stroke-width="1" stroke-linejoin="miter"/>
<path d="M453.6 264.3 L439 278.2" fill="none" stroke="#000" stroke-width="1.8" stroke-linejoin="miter"/>
<line x1="438.40" y1="278.20" x2="438.40" y2="288.60" stroke="#000" stroke-width="1"/>
<line x1="441.30" y1="278.20" x2="441.30" y2="291.80" stroke="#555" stroke-width="1"/>
<rect x="455.50" y="320.30" width="12.90" height="11.90" fill="#aaa" stroke="#000" stroke-width="1" rx="1.5"/>
<rect x="457.60" y="323.40" width="8.60" height="6.90" fill="#fff" stroke="#000" stroke-width="0.8" rx="0"/>
<rect x="456.00" y="320.00" width="12.00" height="1.80" fill="#000"/>
<line x1="606.60" y1="243.70" x2="701.80" y2="243.70" stroke="#000" stroke-width="1"/>
<line x1="606.60" y1="246.40" x2="701.80" y2="246.40" stroke="#000" stroke-width="1"/>
<rect x="606.20" y="248.60" width="21.20" height="2.30" fill="#000"/>
<path d="M628.60 250.00 A22.40 22.30 0 0 1 606.30 272.20" fill="none" stroke="#000" stroke-width="1.2"/>
<rect x="603.40" y="271.80" width="3.50" height="2.40" fill="#000"/>
<path d="M604.0 272.3 V279.3 H611.0 V353.6" fill="none" stroke="#000" stroke-width="1" stroke-linejoin="miter"/>
<path d="M604.0 272.3 H606.6 V276.1 H613.9 V353.6" fill="none" stroke="#000" stroke-width="1" stroke-linejoin="miter"/>
<path d="M611.0 353.6 H604.0 V360.6 H606.6 V356.4 H701.8" fill="none" stroke="#000" stroke-width="1" stroke-linejoin="miter"/>
<line x1="611.00" y1="353.60" x2="701.80" y2="353.60" stroke="#000" stroke-width="1"/>
<rect x="606.40" y="359.60" width="23.20" height="2.20" fill="#000"/>
<path d="M629.40 361.00 A22.80 21.80 0 0 1 606.60 382.80" fill="none" stroke="#000" stroke-width="1.2"/>
<rect x="243.45" y="242.80" width="1.70" height="1.60" fill="#fff"/>
<rect x="333.85" y="242.80" width="1.70" height="1.60" fill="#fff"/>
<rect x="333.85" y="245.50" width="1.70" height="1.60" fill="#fff"/>
<rect x="332.50" y="244.15" width="1.60" height="1.60" fill="#fff"/>
<rect x="335.30" y="244.15" width="1.60" height="1.60" fill="#fff"/>
<rect x="425.70" y="229.05" width="1.60" height="1.70" fill="#fff"/>
<rect x="424.15" y="287.80" width="1.80" height="1.60" fill="#fff"/>
<rect x="603.20" y="206.05" width="1.60" height="1.80" fill="#fff"/>
<rect x="611.55" y="352.80" width="1.80" height="1.60" fill="#fff"/>
<rect x="34.50" y="244.15" width="1.60" height="1.60" fill="#fff"/>
<rect x="34.50" y="289.15" width="1.60" height="1.60" fill="#fff"/>
<rect x="444.35" y="480.80" width="1.80" height="1.60" fill="#fff"/>
<rect x="289.45" y="367.80" width="1.50" height="1.60" fill="#fff"/>
</svg></body></html>
